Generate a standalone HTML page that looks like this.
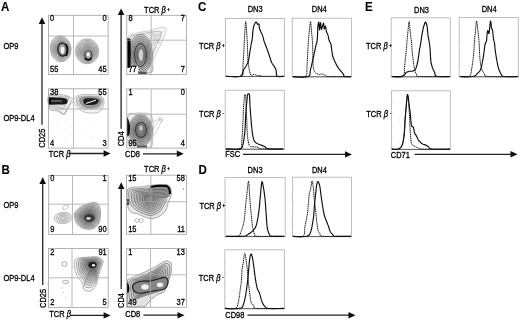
<!DOCTYPE html>
<html><head><meta charset="utf-8"><style>html,body{margin:0;padding:0;background:#fff;width:520px;height:321px;overflow:hidden}svg{display:block;will-change:transform}body{font-family:"Liberation Sans",sans-serif}</style></head>
<body>
<svg width="520" height="321" viewBox="0 0 520 321" font-family="'Liberation Sans', sans-serif">
<rect width="520" height="321" fill="#fff"/>
<defs><filter id="bl" x="0" y="0" width="1" height="1"><feGaussianBlur stdDeviation="0.35"/></filter></defs><g filter="url(#bl)">
<text transform="translate(1.1,10.7) scale(0.93,1)" font-size="12.4" text-anchor="start" font-weight="bold" fill="#000" stroke="#000" stroke-width="0.1" >A</text>
<text transform="translate(1.6,173.7) scale(0.93,1)" font-size="12.4" text-anchor="start" font-weight="bold" fill="#000" stroke="#000" stroke-width="0.1" >B</text>
<text transform="translate(197.9,10.6) scale(0.93,1)" font-size="12.4" text-anchor="start" font-weight="bold" fill="#000" stroke="#000" stroke-width="0.1" >C</text>
<text transform="translate(198.5,173.7) scale(0.93,1)" font-size="12.4" text-anchor="start" font-weight="bold" fill="#000" stroke="#000" stroke-width="0.1" >D</text>
<text transform="translate(364.9,10.9) scale(0.93,1)" font-size="12.4" text-anchor="start" font-weight="bold" fill="#000" stroke="#000" stroke-width="0.1" >E</text>
<path d="M70.80,47.37 L70.91,48.37 L70.95,49.39 L70.93,50.42 L70.86,51.43 L70.72,52.40 L70.51,53.35 L70.24,54.30 L69.91,55.21 L69.52,56.08 L69.09,56.89 L68.60,57.65 L68.06,58.36 L67.46,59.03 L66.83,59.62 L66.17,60.14 L65.48,60.59 L64.74,60.97 L63.98,61.29 L63.19,61.52 L62.41,61.67 L61.61,61.74 L60.80,61.73 L59.97,61.65 L59.16,61.48 L58.37,61.24 L57.59,60.92 L56.82,60.52 L56.07,60.05 L55.34,59.51 L54.67,58.92 L54.03,58.26 L53.42,57.53 L52.85,56.74 L52.33,55.91 L51.87,55.05 L51.47,54.15 L51.11,53.20 L50.81,52.22 L50.57,51.23 L50.40,50.23 L50.29,49.23 L50.25,48.21 L50.27,47.18 L50.34,46.17 L50.48,45.20 L50.69,44.25 L50.96,43.30 L51.29,42.39 L51.68,41.52 L52.11,40.71 L52.60,39.95 L53.14,39.24 L53.74,38.57 L54.37,37.98 L55.03,37.46 L55.72,37.01 L56.46,36.63 L57.22,36.31 L58.01,36.08 L58.79,35.93 L59.59,35.86 L60.40,35.87 L61.23,35.95 L62.04,36.12 L62.83,36.36 L63.61,36.68 L64.38,37.08 L65.13,37.55 L65.86,38.09 L66.53,38.68 L67.17,39.34 L67.78,40.07 L68.35,40.86 L68.87,41.69 L69.33,42.55 L69.73,43.45 L70.09,44.40 L70.39,45.38 L70.63,46.37 Z" fill="#f0f0f0" stroke="#555" stroke-width="0.5"/>
<path d="M69.92,47.58 L70.02,48.48 L70.06,49.40 L70.04,50.33 L69.97,51.23 L69.84,52.11 L69.66,52.97 L69.42,53.82 L69.12,54.64 L68.77,55.42 L68.38,56.15 L67.94,56.83 L67.45,57.48 L66.92,58.07 L66.35,58.61 L65.76,59.08 L65.13,59.48 L64.47,59.83 L63.78,60.11 L63.07,60.32 L62.37,60.46 L61.65,60.52 L60.92,60.51 L60.18,60.43 L59.44,60.28 L58.73,60.07 L58.03,59.78 L57.34,59.42 L56.66,58.99 L56.01,58.51 L55.40,57.97 L54.83,57.38 L54.28,56.72 L53.76,56.02 L53.30,55.27 L52.88,54.50 L52.52,53.69 L52.20,52.83 L51.93,51.95 L51.72,51.05 L51.56,50.16 L51.46,49.26 L51.42,48.34 L51.44,47.41 L51.51,46.51 L51.64,45.63 L51.82,44.77 L52.06,43.92 L52.36,43.10 L52.71,42.32 L53.10,41.59 L53.54,40.91 L54.03,40.26 L54.56,39.67 L55.13,39.13 L55.72,38.66 L56.35,38.26 L57.01,37.91 L57.70,37.63 L58.41,37.42 L59.11,37.28 L59.83,37.22 L60.56,37.23 L61.30,37.31 L62.04,37.46 L62.75,37.67 L63.45,37.96 L64.14,38.32 L64.82,38.75 L65.47,39.23 L66.08,39.77 L66.65,40.36 L67.20,41.02 L67.72,41.72 L68.18,42.47 L68.60,43.24 L68.96,44.05 L69.28,44.91 L69.55,45.79 L69.76,46.69 Z" fill="#e3e3e3" stroke="#555" stroke-width="0.5"/>
<path d="M69.04,47.79 L69.13,48.59 L69.16,49.41 L69.15,50.23 L69.08,51.04 L68.97,51.82 L68.81,52.58 L68.59,53.34 L68.33,54.07 L68.02,54.76 L67.67,55.41 L67.28,56.02 L66.85,56.59 L66.37,57.12 L65.87,57.60 L65.34,58.02 L64.78,58.37 L64.19,58.68 L63.58,58.93 L62.95,59.12 L62.33,59.24 L61.69,59.29 L61.04,59.29 L60.38,59.22 L59.73,59.08 L59.09,58.89 L58.47,58.64 L57.86,58.32 L57.25,57.94 L56.68,57.51 L56.13,57.03 L55.62,56.51 L55.14,55.92 L54.68,55.29 L54.26,54.63 L53.90,53.94 L53.57,53.22 L53.29,52.46 L53.05,51.68 L52.86,50.88 L52.72,50.09 L52.63,49.29 L52.60,48.47 L52.61,47.65 L52.68,46.84 L52.79,46.06 L52.95,45.30 L53.17,44.54 L53.43,43.81 L53.74,43.12 L54.09,42.47 L54.48,41.86 L54.91,41.29 L55.39,40.76 L55.89,40.28 L56.42,39.86 L56.98,39.51 L57.57,39.20 L58.18,38.95 L58.81,38.76 L59.43,38.64 L60.07,38.59 L60.72,38.59 L61.38,38.66 L62.03,38.80 L62.67,38.99 L63.29,39.24 L63.90,39.56 L64.51,39.94 L65.08,40.37 L65.63,40.85 L66.14,41.37 L66.62,41.96 L67.08,42.59 L67.50,43.25 L67.86,43.94 L68.19,44.66 L68.47,45.42 L68.71,46.20 L68.90,47.00 Z" fill="#d5d5d5" stroke="#555" stroke-width="0.5"/>
<path d="M68.16,48.01 L68.23,48.71 L68.27,49.42 L68.25,50.14 L68.20,50.85 L68.10,51.53 L67.96,52.20 L67.77,52.86 L67.54,53.50 L67.27,54.11 L66.96,54.67 L66.62,55.20 L66.24,55.70 L65.83,56.17 L65.38,56.59 L64.92,56.95 L64.44,57.26 L63.92,57.53 L63.38,57.75 L62.84,57.91 L62.29,58.02 L61.73,58.07 L61.16,58.06 L60.58,58.00 L60.01,57.89 L59.46,57.72 L58.91,57.50 L58.37,57.22 L57.85,56.88 L57.34,56.51 L56.87,56.09 L56.42,55.63 L55.99,55.12 L55.59,54.57 L55.23,53.99 L54.91,53.39 L54.63,52.76 L54.38,52.09 L54.17,51.41 L54.00,50.71 L53.88,50.01 L53.81,49.31 L53.77,48.60 L53.79,47.88 L53.84,47.17 L53.94,46.49 L54.08,45.82 L54.27,45.16 L54.50,44.52 L54.77,43.91 L55.08,43.35 L55.42,42.82 L55.80,42.32 L56.21,41.85 L56.66,41.43 L57.12,41.07 L57.60,40.76 L58.12,40.49 L58.66,40.27 L59.20,40.11 L59.75,40.00 L60.31,39.95 L60.88,39.96 L61.46,40.02 L62.03,40.13 L62.58,40.30 L63.13,40.52 L63.67,40.80 L64.19,41.14 L64.70,41.51 L65.17,41.93 L65.62,42.39 L66.05,42.90 L66.45,43.45 L66.81,44.03 L67.13,44.63 L67.41,45.26 L67.66,45.93 L67.87,46.61 L68.04,47.31 Z" fill="#c8c8c8" stroke="#555" stroke-width="0.5"/>
<path d="M67.28,48.22 L67.34,48.82 L67.37,49.43 L67.36,50.05 L67.31,50.66 L67.23,51.24 L67.11,51.81 L66.94,52.38 L66.74,52.93 L66.51,53.45 L66.25,53.93 L65.96,54.39 L65.64,54.82 L65.28,55.22 L64.90,55.57 L64.50,55.89 L64.09,56.16 L63.65,56.38 L63.19,56.57 L62.72,56.71 L62.25,56.80 L61.77,56.85 L61.28,56.84 L60.78,56.79 L60.30,56.69 L59.82,56.55 L59.36,56.35 L58.89,56.11 L58.44,55.83 L58.01,55.51 L57.60,55.15 L57.22,54.75 L56.85,54.32 L56.51,53.84 L56.20,53.35 L55.92,52.83 L55.68,52.29 L55.47,51.72 L55.29,51.13 L55.14,50.54 L55.04,49.94 L54.98,49.34 L54.95,48.73 L54.96,48.11 L55.01,47.50 L55.09,46.92 L55.21,46.35 L55.38,45.78 L55.58,45.23 L55.81,44.71 L56.07,44.23 L56.36,43.77 L56.68,43.34 L57.04,42.94 L57.42,42.59 L57.82,42.27 L58.23,42.00 L58.67,41.78 L59.13,41.59 L59.60,41.45 L60.07,41.36 L60.55,41.31 L61.04,41.32 L61.54,41.37 L62.02,41.47 L62.50,41.61 L62.96,41.81 L63.43,42.05 L63.88,42.33 L64.31,42.65 L64.72,43.01 L65.10,43.41 L65.47,43.84 L65.81,44.32 L66.12,44.81 L66.40,45.33 L66.64,45.87 L66.85,46.44 L67.03,47.03 L67.18,47.62 Z" fill="#bbbbbb" stroke="#555" stroke-width="0.5"/>
<path d="M66.40,48.43 L66.45,48.93 L66.48,49.45 L66.47,49.96 L66.43,50.46 L66.36,50.95 L66.26,51.43 L66.12,51.90 L65.95,52.35 L65.76,52.79 L65.55,53.19 L65.30,53.57 L65.03,53.93 L64.73,54.26 L64.42,54.56 L64.09,54.82 L63.74,55.05 L63.37,55.24 L62.99,55.39 L62.60,55.51 L62.20,55.59 L61.81,55.62 L61.40,55.62 L60.99,55.57 L60.58,55.49 L60.18,55.37 L59.80,55.21 L59.41,55.01 L59.03,54.77 L58.67,54.51 L58.33,54.21 L58.01,53.88 L57.71,53.51 L57.42,53.12 L57.16,52.70 L56.93,52.28 L56.73,51.83 L56.56,51.35 L56.41,50.86 L56.29,50.36 L56.20,49.87 L56.15,49.37 L56.12,48.85 L56.13,48.34 L56.17,47.84 L56.24,47.35 L56.34,46.87 L56.48,46.40 L56.65,45.95 L56.84,45.51 L57.05,45.11 L57.30,44.73 L57.57,44.37 L57.87,44.04 L58.18,43.74 L58.51,43.48 L58.86,43.25 L59.23,43.06 L59.61,42.91 L60.00,42.79 L60.40,42.71 L60.79,42.68 L61.20,42.68 L61.61,42.73 L62.02,42.81 L62.42,42.93 L62.80,43.09 L63.19,43.29 L63.57,43.53 L63.93,43.79 L64.27,44.09 L64.59,44.42 L64.89,44.79 L65.18,45.18 L65.44,45.60 L65.67,46.02 L65.87,46.47 L66.04,46.95 L66.19,47.44 L66.31,47.94 Z" fill="#adadad" stroke="#555" stroke-width="0.5"/>
<path d="M65.52,48.65 L65.56,49.05 L65.58,49.46 L65.57,49.87 L65.54,50.27 L65.49,50.66 L65.40,51.04 L65.30,51.42 L65.16,51.78 L65.01,52.13 L64.84,52.46 L64.64,52.76 L64.42,53.05 L64.19,53.31 L63.93,53.55 L63.67,53.76 L63.39,53.94 L63.10,54.09 L62.79,54.21 L62.48,54.31 L62.16,54.37 L61.85,54.40 L61.52,54.39 L61.19,54.36 L60.86,54.29 L60.55,54.20 L60.24,54.07 L59.93,53.91 L59.63,53.72 L59.34,53.50 L59.07,53.27 L58.81,53.00 L58.57,52.71 L58.34,52.40 L58.13,52.06 L57.95,51.72 L57.79,51.36 L57.64,50.98 L57.52,50.59 L57.43,50.19 L57.36,49.79 L57.32,49.39 L57.30,48.98 L57.31,48.57 L57.34,48.17 L57.39,47.78 L57.48,47.40 L57.58,47.02 L57.72,46.66 L57.87,46.31 L58.04,45.98 L58.24,45.68 L58.46,45.39 L58.69,45.13 L58.95,44.89 L59.21,44.68 L59.49,44.50 L59.78,44.35 L60.09,44.23 L60.40,44.13 L60.72,44.07 L61.03,44.04 L61.36,44.05 L61.69,44.08 L62.02,44.15 L62.33,44.24 L62.64,44.37 L62.95,44.53 L63.25,44.72 L63.54,44.94 L63.81,45.17 L64.07,45.44 L64.31,45.73 L64.54,46.04 L64.75,46.38 L64.93,46.72 L65.09,47.08 L65.24,47.46 L65.36,47.85 L65.45,48.25 Z" fill="#a0a0a0" stroke="#555" stroke-width="0.5"/>
<ellipse cx="62.5" cy="49.5" rx="4.6" ry="6.6" fill="none" stroke="#2a2a2a" stroke-width="1.5" transform="rotate(-5 62.5 49.5)" opacity="1"/>
<path d="M65.5,44 C68,46 68.5,52 66,56" fill="none" stroke="#0a0a0a" stroke-width="1.6"/>
<ellipse cx="62.6" cy="50.2" rx="1.8" ry="3.6" fill="#f4f4f4" stroke="none" stroke-width="1" transform="rotate(0 62.6 50.2)" opacity="1"/>
<path d="M98.60,51.30 L98.56,52.26 L98.45,53.23 L98.28,54.20 L98.03,55.14 L97.72,56.05 L97.35,56.92 L96.90,57.77 L96.40,58.59 L95.84,59.36 L95.23,60.07 L94.58,60.72 L93.86,61.32 L93.10,61.87 L92.31,62.35 L91.50,62.76 L90.66,63.09 L89.79,63.35 L88.89,63.54 L87.99,63.66 L87.10,63.70 L86.21,63.66 L85.31,63.54 L84.41,63.35 L83.54,63.09 L82.70,62.76 L81.89,62.35 L81.10,61.87 L80.34,61.32 L79.62,60.72 L78.97,60.07 L78.36,59.36 L77.80,58.59 L77.30,57.77 L76.85,56.92 L76.48,56.05 L76.17,55.14 L75.92,54.20 L75.75,53.23 L75.64,52.26 L75.60,51.30 L75.64,50.34 L75.75,49.37 L75.92,48.40 L76.17,47.46 L76.48,46.55 L76.85,45.68 L77.30,44.83 L77.80,44.01 L78.36,43.24 L78.97,42.53 L79.62,41.88 L80.34,41.28 L81.10,40.73 L81.89,40.25 L82.70,39.84 L83.54,39.51 L84.41,39.25 L85.31,39.06 L86.21,38.94 L87.10,38.90 L87.99,38.94 L88.89,39.06 L89.79,39.25 L90.66,39.51 L91.50,39.84 L92.31,40.25 L93.10,40.73 L93.86,41.28 L94.58,41.88 L95.23,42.53 L95.84,43.24 L96.40,44.01 L96.90,44.83 L97.35,45.68 L97.72,46.55 L98.03,47.46 L98.28,48.40 L98.45,49.37 L98.56,50.34 Z" fill="#f0f0f0" stroke="#555" stroke-width="0.5"/>
<path d="M97.52,51.47 L97.49,52.33 L97.39,53.21 L97.23,54.08 L97.01,54.93 L96.73,55.74 L96.39,56.53 L95.99,57.29 L95.54,58.03 L95.03,58.72 L94.49,59.36 L93.90,59.95 L93.25,60.49 L92.57,60.98 L91.86,61.42 L91.13,61.78 L90.38,62.08 L89.59,62.31 L88.78,62.49 L87.97,62.59 L87.17,62.63 L86.37,62.59 L85.56,62.49 L84.75,62.31 L83.96,62.08 L83.21,61.78 L82.48,61.42 L81.77,60.98 L81.09,60.49 L80.44,59.95 L79.85,59.36 L79.31,58.72 L78.80,58.03 L78.35,57.29 L77.95,56.53 L77.61,55.74 L77.33,54.93 L77.11,54.08 L76.95,53.21 L76.85,52.33 L76.82,51.47 L76.85,50.61 L76.95,49.73 L77.11,48.86 L77.33,48.01 L77.61,47.20 L77.95,46.41 L78.35,45.65 L78.80,44.91 L79.31,44.22 L79.85,43.58 L80.44,42.99 L81.09,42.45 L81.77,41.96 L82.48,41.52 L83.21,41.16 L83.96,40.86 L84.75,40.63 L85.56,40.45 L86.37,40.35 L87.17,40.31 L87.97,40.35 L88.78,40.45 L89.59,40.63 L90.38,40.86 L91.13,41.16 L91.86,41.52 L92.57,41.96 L93.25,42.45 L93.90,42.99 L94.49,43.58 L95.03,44.22 L95.54,44.91 L95.99,45.65 L96.39,46.41 L96.73,47.20 L97.01,48.01 L97.23,48.86 L97.39,49.73 L97.49,50.61 Z" fill="#e6e6e6" stroke="#555" stroke-width="0.5"/>
<path d="M96.44,51.64 L96.41,52.41 L96.32,53.19 L96.18,53.96 L95.98,54.71 L95.74,55.44 L95.44,56.13 L95.08,56.82 L94.68,57.47 L94.23,58.09 L93.75,58.65 L93.22,59.18 L92.65,59.66 L92.04,60.10 L91.41,60.48 L90.76,60.80 L90.09,61.07 L89.39,61.28 L88.67,61.43 L87.95,61.53 L87.24,61.56 L86.53,61.53 L85.81,61.43 L85.09,61.28 L84.39,61.07 L83.72,60.80 L83.07,60.48 L82.44,60.10 L81.83,59.66 L81.26,59.18 L80.73,58.65 L80.25,58.09 L79.80,57.47 L79.40,56.82 L79.04,56.13 L78.74,55.44 L78.50,54.71 L78.30,53.96 L78.16,53.19 L78.07,52.41 L78.04,51.64 L78.07,50.87 L78.16,50.09 L78.30,49.32 L78.50,48.57 L78.74,47.84 L79.04,47.15 L79.40,46.46 L79.80,45.81 L80.25,45.19 L80.73,44.63 L81.26,44.10 L81.83,43.62 L82.44,43.18 L83.07,42.80 L83.72,42.48 L84.39,42.21 L85.09,42.00 L85.81,41.85 L86.53,41.75 L87.24,41.72 L87.95,41.75 L88.67,41.85 L89.39,42.00 L90.09,42.21 L90.76,42.48 L91.41,42.80 L92.04,43.18 L92.65,43.62 L93.22,44.10 L93.75,44.63 L94.23,45.19 L94.68,45.81 L95.08,46.46 L95.44,47.15 L95.74,47.84 L95.98,48.57 L96.18,49.32 L96.32,50.09 L96.41,50.87 Z" fill="#dbdbdb" stroke="#555" stroke-width="0.5"/>
<path d="M95.36,51.81 L95.33,52.48 L95.26,53.16 L95.13,53.84 L94.96,54.50 L94.75,55.13 L94.48,55.74 L94.17,56.34 L93.82,56.91 L93.42,57.45 L93.00,57.95 L92.54,58.40 L92.04,58.83 L91.51,59.21 L90.96,59.55 L90.39,59.83 L89.80,60.06 L89.19,60.24 L88.56,60.38 L87.93,60.46 L87.31,60.49 L86.69,60.46 L86.06,60.38 L85.43,60.24 L84.82,60.06 L84.23,59.83 L83.66,59.55 L83.11,59.21 L82.58,58.83 L82.08,58.40 L81.62,57.95 L81.20,57.45 L80.80,56.91 L80.45,56.34 L80.14,55.74 L79.87,55.13 L79.66,54.50 L79.49,53.84 L79.36,53.16 L79.29,52.48 L79.26,51.81 L79.29,51.14 L79.36,50.46 L79.49,49.78 L79.66,49.12 L79.87,48.49 L80.14,47.88 L80.45,47.28 L80.80,46.71 L81.20,46.17 L81.62,45.67 L82.08,45.22 L82.58,44.79 L83.11,44.41 L83.66,44.07 L84.23,43.79 L84.82,43.56 L85.43,43.38 L86.06,43.24 L86.69,43.16 L87.31,43.13 L87.93,43.16 L88.56,43.24 L89.19,43.38 L89.80,43.56 L90.39,43.79 L90.96,44.07 L91.51,44.41 L92.04,44.79 L92.54,45.22 L93.00,45.67 L93.42,46.17 L93.82,46.71 L94.17,47.28 L94.48,47.88 L94.75,48.49 L94.96,49.12 L95.13,49.78 L95.26,50.46 L95.33,51.14 Z" fill="#d1d1d1" stroke="#555" stroke-width="0.5"/>
<path d="M94.28,51.98 L94.26,52.56 L94.19,53.14 L94.09,53.72 L93.94,54.29 L93.75,54.83 L93.53,55.35 L93.26,55.86 L92.96,56.35 L92.62,56.82 L92.26,57.24 L91.87,57.63 L91.44,57.99 L90.98,58.32 L90.51,58.61 L90.02,58.85 L89.52,59.05 L88.99,59.21 L88.46,59.33 L87.91,59.40 L87.38,59.42 L86.85,59.40 L86.30,59.33 L85.77,59.21 L85.24,59.05 L84.74,58.85 L84.25,58.61 L83.78,58.32 L83.32,57.99 L82.89,57.63 L82.50,57.24 L82.14,56.82 L81.80,56.35 L81.50,55.86 L81.23,55.35 L81.01,54.83 L80.82,54.29 L80.67,53.72 L80.57,53.14 L80.50,52.56 L80.48,51.98 L80.50,51.40 L80.57,50.82 L80.67,50.24 L80.82,49.67 L81.01,49.13 L81.23,48.61 L81.50,48.10 L81.80,47.61 L82.14,47.14 L82.50,46.72 L82.89,46.33 L83.32,45.97 L83.78,45.64 L84.25,45.35 L84.74,45.11 L85.24,44.91 L85.77,44.75 L86.30,44.63 L86.85,44.56 L87.38,44.54 L87.91,44.56 L88.46,44.63 L88.99,44.75 L89.52,44.91 L90.02,45.11 L90.51,45.35 L90.98,45.64 L91.44,45.97 L91.87,46.33 L92.26,46.72 L92.62,47.14 L92.96,47.61 L93.26,48.10 L93.53,48.61 L93.75,49.13 L93.94,49.67 L94.09,50.24 L94.19,50.82 L94.26,51.40 Z" fill="#c7c7c7" stroke="#555" stroke-width="0.5"/>
<path d="M93.20,52.15 L93.18,52.63 L93.13,53.12 L93.04,53.60 L92.92,54.07 L92.76,54.52 L92.57,54.96 L92.35,55.39 L92.10,55.79 L91.82,56.18 L91.52,56.53 L91.19,56.86 L90.83,57.16 L90.45,57.44 L90.05,57.68 L89.65,57.88 L89.23,58.04 L88.79,58.17 L88.35,58.27 L87.90,58.33 L87.45,58.35 L87.00,58.33 L86.55,58.27 L86.11,58.17 L85.67,58.04 L85.25,57.88 L84.85,57.68 L84.45,57.44 L84.07,57.16 L83.71,56.86 L83.38,56.53 L83.08,56.18 L82.80,55.79 L82.55,55.39 L82.33,54.96 L82.14,54.52 L81.98,54.07 L81.86,53.60 L81.77,53.12 L81.72,52.63 L81.70,52.15 L81.72,51.67 L81.77,51.18 L81.86,50.70 L81.98,50.23 L82.14,49.78 L82.33,49.34 L82.55,48.91 L82.80,48.51 L83.08,48.12 L83.38,47.77 L83.71,47.44 L84.07,47.14 L84.45,46.86 L84.85,46.62 L85.25,46.42 L85.67,46.26 L86.11,46.13 L86.55,46.03 L87.00,45.97 L87.45,45.95 L87.90,45.97 L88.35,46.03 L88.79,46.13 L89.23,46.26 L89.65,46.42 L90.05,46.62 L90.45,46.86 L90.83,47.14 L91.19,47.44 L91.52,47.77 L91.82,48.12 L92.10,48.51 L92.35,48.91 L92.57,49.34 L92.76,49.78 L92.92,50.23 L93.04,50.70 L93.13,51.18 L93.18,51.67 Z" fill="#bdbdbd" stroke="#555" stroke-width="0.5"/>
<path d="M92.12,52.32 L92.11,52.70 L92.06,53.09 L91.99,53.48 L91.89,53.86 L91.77,54.22 L91.62,54.57 L91.44,54.91 L91.24,55.24 L91.01,55.54 L90.77,55.83 L90.51,56.09 L90.22,56.33 L89.92,56.55 L89.60,56.74 L89.28,56.90 L88.95,57.03 L88.60,57.14 L88.24,57.22 L87.88,57.26 L87.52,57.28 L87.16,57.26 L86.80,57.22 L86.44,57.14 L86.09,57.03 L85.76,56.90 L85.44,56.74 L85.12,56.55 L84.82,56.33 L84.53,56.09 L84.27,55.83 L84.03,55.54 L83.80,55.24 L83.60,54.91 L83.42,54.57 L83.27,54.22 L83.15,53.86 L83.05,53.48 L82.98,53.09 L82.93,52.70 L82.92,52.32 L82.93,51.94 L82.98,51.55 L83.05,51.16 L83.15,50.78 L83.27,50.42 L83.42,50.07 L83.60,49.73 L83.80,49.40 L84.03,49.10 L84.27,48.81 L84.53,48.55 L84.82,48.31 L85.12,48.09 L85.44,47.90 L85.76,47.74 L86.09,47.61 L86.44,47.50 L86.80,47.42 L87.16,47.38 L87.52,47.36 L87.88,47.38 L88.24,47.42 L88.60,47.50 L88.95,47.61 L89.28,47.74 L89.60,47.90 L89.92,48.09 L90.22,48.31 L90.51,48.55 L90.77,48.81 L91.01,49.10 L91.24,49.40 L91.44,49.73 L91.62,50.07 L91.77,50.42 L91.89,50.78 L91.99,51.16 L92.06,51.55 L92.11,51.94 Z" fill="#b2b2b2" stroke="#555" stroke-width="0.5"/>
<path d="M91.04,52.49 L91.03,52.78 L91.00,53.07 L90.94,53.36 L90.87,53.64 L90.78,53.91 L90.66,54.18 L90.53,54.43 L90.38,54.68 L90.21,54.91 L90.03,55.12 L89.83,55.32 L89.62,55.50 L89.39,55.66 L89.15,55.81 L88.91,55.93 L88.66,56.03 L88.40,56.10 L88.13,56.16 L87.86,56.20 L87.59,56.21 L87.32,56.20 L87.05,56.16 L86.78,56.10 L86.52,56.03 L86.27,55.93 L86.03,55.81 L85.79,55.66 L85.56,55.50 L85.35,55.32 L85.15,55.12 L84.97,54.91 L84.80,54.68 L84.65,54.43 L84.52,54.18 L84.40,53.91 L84.31,53.64 L84.24,53.36 L84.18,53.07 L84.15,52.78 L84.14,52.49 L84.15,52.20 L84.18,51.91 L84.24,51.62 L84.31,51.34 L84.40,51.07 L84.52,50.80 L84.65,50.55 L84.80,50.30 L84.97,50.07 L85.15,49.86 L85.35,49.66 L85.56,49.48 L85.79,49.32 L86.03,49.17 L86.27,49.05 L86.52,48.95 L86.78,48.88 L87.05,48.82 L87.32,48.78 L87.59,48.77 L87.86,48.78 L88.13,48.82 L88.40,48.88 L88.66,48.95 L88.91,49.05 L89.15,49.17 L89.39,49.32 L89.62,49.48 L89.83,49.66 L90.03,49.86 L90.21,50.07 L90.38,50.30 L90.53,50.55 L90.66,50.80 L90.78,51.07 L90.87,51.34 L90.94,51.62 L91.00,51.91 L91.03,52.20 Z" fill="#a8a8a8" stroke="#555" stroke-width="0.5"/>
<ellipse cx="88.3" cy="55.3" rx="3.6" ry="4.6" fill="none" stroke="#3a3a3a" stroke-width="1.1" transform="rotate(0 88.3 55.3)" opacity="1"/>
<path d="M85,58 C86.5,60.5 90,60.5 91.5,58" fill="none" stroke="#0a0a0a" stroke-width="1.8"/>
<ellipse cx="88.3" cy="54.6" rx="1.5" ry="2.2" fill="#f8f8f8" stroke="none" stroke-width="1" transform="rotate(0 88.3 54.6)" opacity="1"/>
<path d="M49.00,94.50 L50.48,93.55 L52.68,93.38 L55.24,93.70 L57.80,94.17 L60.00,94.50 L61.84,94.69 L63.56,94.94 L65.16,95.26 L66.64,95.61 L68.00,96.00 L69.18,96.53 L70.17,97.22 L71.07,97.88 L71.98,98.37 L73.00,98.50 L74.06,98.14 L75.09,97.39 L76.19,96.47 L77.46,95.60 L79.00,95.00 L80.90,94.68 L83.09,94.51 L85.43,94.45 L87.78,94.46 L90.00,94.50 L92.16,94.55 L94.36,94.62 L96.48,94.78 L98.40,95.05 L100.00,95.50 L101.26,96.14 L102.27,96.93 L103.05,97.85 L103.62,98.88 L104.00,100.00 L104.18,101.26 L104.15,102.69 L103.93,104.19 L103.54,105.66 L103.00,107.00 L102.37,108.28 L101.62,109.57 L100.70,110.77 L99.51,111.78 L98.00,112.50 L95.98,112.92 L93.51,113.11 L90.85,113.09 L88.26,112.88 L86.00,112.50 L84.10,111.91 L82.37,111.10 L80.79,110.12 L79.34,109.07 L78.00,108.00 L76.81,106.70 L75.78,105.13 L74.86,103.61 L73.95,102.46 L73.00,102.00 L71.98,102.42 L70.95,103.51 L69.93,104.99 L68.94,106.58 L68.00,108.00 L67.18,109.43 L66.47,111.04 L65.77,112.60 L64.98,113.83 L64.00,114.50 L62.79,114.42 L61.42,113.75 L59.94,112.77 L58.45,111.76 L57.00,111.00 L55.50,110.70 L53.91,110.69 L52.37,110.63 L51.02,110.18 L50.00,109.00 L49.22,106.67 L48.59,103.40 L48.25,99.86 L48.34,96.67 Z" fill="#f2f2f2" stroke="#888" stroke-width="0.5" opacity="1"/>
<path d="M49.00,96.00 L50.53,95.34 L52.70,95.21 L55.22,95.41 L57.75,95.74 L60.00,96.00 L62.12,96.12 L64.32,96.25 L66.36,96.47 L68.00,96.86 L69.00,97.50 L69.17,98.50 L68.66,99.81 L67.78,101.27 L66.79,102.72 L66.00,104.00 L65.45,105.21 L64.94,106.44 L64.42,107.58 L63.79,108.47 L63.00,109.00 L62.02,109.03 L60.91,108.66 L59.69,108.06 L58.38,107.45 L57.00,107.00 L55.40,106.88 L53.56,106.96 L51.72,107.00 L50.12,106.76 L49.00,106.00 L48.31,104.42 L47.90,102.17 L47.82,99.71 L48.17,97.50 Z" fill="#dcdcdc" stroke="#777" stroke-width="0.45" opacity="1"/>
<path d="M78.00,97.00 L79.73,96.45 L82.10,96.14 L84.82,96.02 L87.55,95.99 L90.00,96.00 L92.24,96.02 L94.48,96.11 L96.60,96.29 L98.48,96.58 L100.00,97.00 L101.14,97.58 L101.99,98.29 L102.57,99.11 L102.90,100.02 L103.00,101.00 L102.86,102.14 L102.47,103.45 L101.85,104.79 L101.02,106.02 L100.00,107.00 L98.75,107.70 L97.26,108.23 L95.58,108.61 L93.81,108.86 L92.00,109.00 L90.05,109.06 L87.90,109.01 L85.74,108.83 L83.71,108.50 L82.00,108.00 L80.58,107.27 L79.35,106.34 L78.33,105.26 L77.54,104.13 L77.00,103.00 L76.64,101.78 L76.44,100.43 L76.52,99.09 L77.00,97.90 Z" fill="#cfcfcf" stroke="#777" stroke-width="0.45" opacity="1"/>
<path d="M81.00,98.00 L82.29,97.57 L84.02,97.26 L86.02,97.08 L88.07,96.99 L90.00,97.00 L91.91,97.11 L93.94,97.32 L95.90,97.64 L97.65,98.03 L99.00,98.50 L99.93,99.06 L100.54,99.73 L100.90,100.47 L101.03,101.24 L101.00,102.00 L100.78,102.81 L100.35,103.68 L99.73,104.56 L98.94,105.35 L98.00,106.00 L96.86,106.50 L95.49,106.90 L93.99,107.20 L92.46,107.40 L91.00,107.50 L89.55,107.52 L88.06,107.45 L86.58,107.27 L85.21,106.96 L84.00,106.50 L82.93,105.82 L81.94,104.93 L81.10,103.93 L80.43,102.92 L80.00,102.00 L79.75,101.12 L79.66,100.22 L79.78,99.36 L80.21,98.60 Z" fill="#9a9a9a" stroke="#555" stroke-width="0.45" opacity="1"/>
<path d="M49.00,98.00 L50.24,97.52 L52.00,97.33 L54.04,97.33 L56.12,97.42 L58.00,97.50 L59.77,97.58 L61.58,97.72 L63.32,97.92 L64.83,98.18 L66.00,98.50 L66.76,98.90 L67.21,99.37 L67.43,99.89 L67.50,100.44 L67.50,101.00 L67.50,101.61 L67.43,102.28 L67.21,102.96 L66.76,103.55 L66.00,104.00 L64.83,104.28 L63.32,104.43 L61.58,104.49 L59.77,104.50 L58.00,104.50 L56.12,104.55 L54.04,104.64 L52.00,104.64 L50.24,104.47 L49.00,104.00 L48.28,103.06 L47.92,101.73 L47.92,100.27 L48.28,98.94 Z" fill="#1a1a1a" stroke="none" stroke-width="0.5" opacity="1"/>
<path d="M51,101 L62,101" stroke="#9a9a9a" stroke-width="1"/>
<rect x="48.8" y="97.5" width="2" height="7" fill="#000"/>
<path d="M84.00,99.00 L85.12,98.59 L86.72,98.36 L88.56,98.26 L90.40,98.26 L92.00,98.30 L93.42,98.40 L94.81,98.58 L96.09,98.84 L97.18,99.15 L98.00,99.50 L98.52,99.92 L98.79,100.41 L98.85,100.94 L98.74,101.48 L98.50,102.00 L98.11,102.53 L97.56,103.10 L96.84,103.64 L95.99,104.13 L95.00,104.50 L93.78,104.76 L92.31,104.94 L90.75,105.04 L89.26,105.06 L88.00,105.00 L86.94,104.88 L85.99,104.69 L85.17,104.41 L84.50,104.02 L84.00,103.50 L83.62,102.73 L83.33,101.73 L83.23,100.67 L83.42,99.70 Z" fill="#1c1c1c" stroke="none" stroke-width="0.5" opacity="1"/>
<path d="M86.5,103.3 L95.5,100.2" stroke="#f0f0f0" stroke-width="1.2" stroke-linecap="round"/>
<path d="M55,108 L64,114.5 L72,99.5" fill="none" stroke="#888" stroke-width="0.5"/>
<circle cx="62" cy="118" r="0.4" fill="#bbb"/>
<circle cx="66" cy="121" r="0.4" fill="#bbb"/>
<circle cx="58" cy="124" r="0.4" fill="#bbb"/>
<circle cx="70" cy="126" r="0.4" fill="#bbb"/>
<circle cx="64" cy="129" r="0.4" fill="#bbb"/>
<circle cx="60" cy="133" r="0.4" fill="#bbb"/>
<circle cx="68" cy="135" r="0.4" fill="#bbb"/>
<circle cx="85" cy="118" r="0.4" fill="#bbb"/>
<circle cx="95" cy="122" r="0.4" fill="#bbb"/>
<circle cx="88" cy="128" r="0.4" fill="#bbb"/>
<circle cx="66" cy="140" r="0.4" fill="#bbb"/>
<circle cx="80" cy="135" r="0.4" fill="#bbb"/>
<circle cx="92" cy="138" r="0.4" fill="#bbb"/>
<circle cx="56" cy="117" r="0.4" fill="#bbb"/>
<circle cx="74" cy="119" r="0.4" fill="#bbb"/>
<path d="M128.00,38.00 L128.62,36.02 L129.45,35.01 L130.47,34.59 L131.66,34.38 L133.00,34.00 L134.53,33.47 L136.26,33.06 L138.14,32.70 L140.07,32.37 L142.00,32.00 L143.97,31.61 L146.02,31.22 L148.10,30.84 L150.11,30.43 L152.00,30.00 L153.76,29.48 L155.44,28.87 L157.04,28.27 L158.56,27.78 L160.00,27.50 L161.44,27.39 L162.88,27.38 L164.20,27.54 L165.28,27.89 L166.00,28.50 L166.30,29.41 L166.25,30.58 L165.95,31.96 L165.50,33.45 L165.00,35.00 L164.39,36.66 L163.62,38.47 L162.74,40.35 L161.85,42.22 L161.00,44.00 L160.20,45.63 L159.40,47.18 L158.60,48.70 L157.80,50.29 L157.00,52.00 L156.15,53.87 L155.26,55.86 L154.38,57.90 L153.61,59.97 L153.00,62.00 L152.78,64.14 L152.91,66.41 L153.05,68.61 L152.86,70.54 L152.00,72.00 L150.27,72.87 L147.90,73.28 L145.18,73.42 L142.45,73.43 L140.00,73.50 L137.74,73.81 L135.47,74.26 L133.33,74.54 L131.46,74.39 L130.00,73.50 L129.06,71.80 L128.53,69.48 L128.27,66.66 L128.14,63.46 L128.00,60.00 L127.79,55.86 L127.62,50.95 L127.54,45.91 L127.65,41.38 Z" fill="#f6f6f6" stroke="#a0a0a0" stroke-width="0.5" opacity="1"/>
<path d="M130.00,38.00 L130.82,36.17 L131.85,35.38 L133.07,35.22 L134.46,35.23 L136.00,35.00 L137.76,34.53 L139.76,34.10 L141.88,33.72 L144.00,33.35 L146.00,33.00 L147.91,32.64 L149.82,32.27 L151.66,31.93 L153.41,31.66 L155.00,31.50 L156.50,31.38 L157.95,31.29 L159.25,31.31 L160.30,31.52 L161.00,32.00 L161.30,32.82 L161.25,33.91 L160.95,35.19 L160.50,36.58 L160.00,38.00 L159.38,39.46 L158.57,41.01 L157.67,42.63 L156.78,44.30 L156.00,46.00 L155.30,47.72 L154.63,49.48 L154.01,51.28 L153.46,53.12 L153.00,55.00 L152.67,56.98 L152.46,59.07 L152.30,61.17 L152.17,63.18 L152.00,65.00 L152.10,66.70 L152.51,68.35 L152.77,69.85 L152.42,71.10 L151.00,72.00 L147.93,72.64 L143.50,73.08 L138.62,73.20 L134.15,72.88 L131.00,72.00 L129.40,70.53 L128.76,68.54 L128.72,66.10 L128.92,63.23 L129.00,60.00 L128.93,55.94 L128.94,51.01 L129.10,45.91 L129.43,41.34 Z" fill="#e4e4e4" stroke="#888" stroke-width="0.5" opacity="1"/>
<path d="M150,31 C154,36 157,40 160,44 M153,33 C156,38 160,36 163,31 M151,45 C155,43 158,40 161,37" fill="none" stroke="#aaa" stroke-width="0.5"/>
<path d="M152.30,54.00 L152.26,55.51 L152.15,57.04 L151.97,58.56 L151.72,60.04 L151.40,61.46 L151.02,62.83 L150.56,64.18 L150.04,65.46 L149.46,66.68 L148.84,67.79 L148.17,68.81 L147.44,69.76 L146.66,70.62 L145.85,71.38 L145.02,72.02 L144.16,72.54 L143.26,72.95 L142.34,73.25 L141.41,73.44 L140.50,73.50 L139.59,73.44 L138.66,73.25 L137.74,72.95 L136.84,72.54 L135.98,72.02 L135.15,71.38 L134.34,70.62 L133.56,69.76 L132.83,68.81 L132.16,67.79 L131.54,66.68 L130.96,65.46 L130.44,64.18 L129.98,62.83 L129.60,61.46 L129.28,60.04 L129.03,58.56 L128.85,57.04 L128.74,55.51 L128.70,54.00 L128.74,52.49 L128.85,50.96 L129.03,49.44 L129.28,47.96 L129.60,46.54 L129.98,45.17 L130.44,43.82 L130.96,42.54 L131.54,41.32 L132.16,40.21 L132.83,39.19 L133.56,38.24 L134.34,37.38 L135.15,36.62 L135.98,35.98 L136.84,35.46 L137.74,35.05 L138.66,34.75 L139.59,34.56 L140.50,34.50 L141.41,34.56 L142.34,34.75 L143.26,35.05 L144.16,35.46 L145.02,35.98 L145.85,36.62 L146.66,37.38 L147.44,38.24 L148.17,39.19 L148.84,40.21 L149.46,41.32 L150.04,42.54 L150.56,43.82 L151.02,45.17 L151.40,46.54 L151.72,47.96 L151.97,49.44 L152.15,50.96 L152.26,52.49 Z" fill="#d0d0d0" stroke="#444" stroke-width="0.55"/>
<path d="M151.15,54.10 L151.12,55.46 L151.01,56.84 L150.85,58.20 L150.62,59.54 L150.34,60.82 L150.00,62.05 L149.58,63.26 L149.11,64.42 L148.60,65.51 L148.04,66.51 L147.43,67.43 L146.77,68.29 L146.07,69.06 L145.34,69.74 L144.59,70.31 L143.82,70.78 L143.01,71.15 L142.19,71.43 L141.35,71.59 L140.53,71.65 L139.71,71.59 L138.87,71.43 L138.05,71.15 L137.24,70.78 L136.47,70.31 L135.72,69.74 L134.99,69.06 L134.29,68.29 L133.63,67.43 L133.02,66.51 L132.46,65.51 L131.95,64.42 L131.48,63.26 L131.06,62.05 L130.72,60.82 L130.44,59.54 L130.21,58.20 L130.05,56.84 L129.94,55.46 L129.91,54.10 L129.94,52.74 L130.05,51.36 L130.21,50.00 L130.44,48.66 L130.72,47.38 L131.06,46.15 L131.48,44.94 L131.95,43.78 L132.46,42.69 L133.02,41.69 L133.63,40.77 L134.29,39.91 L134.99,39.14 L135.72,38.46 L136.47,37.89 L137.24,37.42 L138.05,37.05 L138.87,36.77 L139.71,36.61 L140.53,36.55 L141.35,36.61 L142.19,36.77 L143.01,37.05 L143.82,37.42 L144.59,37.89 L145.34,38.46 L146.07,39.14 L146.77,39.91 L147.43,40.77 L148.04,41.69 L148.60,42.69 L149.11,43.78 L149.58,44.94 L150.00,46.15 L150.34,47.38 L150.62,48.66 L150.85,50.00 L151.01,51.36 L151.12,52.74 Z" fill="#c5c5c5" stroke="#444" stroke-width="0.55"/>
<path d="M150.00,54.20 L149.97,55.41 L149.88,56.63 L149.73,57.85 L149.53,59.03 L149.28,60.17 L148.97,61.27 L148.61,62.34 L148.19,63.37 L147.73,64.34 L147.24,65.23 L146.70,66.05 L146.11,66.81 L145.49,67.50 L144.84,68.10 L144.17,68.61 L143.49,69.03 L142.77,69.36 L142.03,69.60 L141.29,69.75 L140.56,69.80 L139.83,69.75 L139.09,69.60 L138.35,69.36 L137.63,69.03 L136.95,68.61 L136.28,68.10 L135.63,67.50 L135.01,66.81 L134.42,66.05 L133.88,65.23 L133.39,64.34 L132.93,63.37 L132.51,62.34 L132.15,61.27 L131.84,60.17 L131.59,59.03 L131.39,57.85 L131.24,56.63 L131.15,55.41 L131.12,54.20 L131.15,52.99 L131.24,51.77 L131.39,50.55 L131.59,49.37 L131.84,48.23 L132.15,47.13 L132.51,46.06 L132.93,45.03 L133.39,44.06 L133.88,43.17 L134.42,42.35 L135.01,41.59 L135.63,40.90 L136.28,40.30 L136.95,39.79 L137.63,39.37 L138.35,39.04 L139.09,38.80 L139.83,38.65 L140.56,38.60 L141.29,38.65 L142.03,38.80 L142.77,39.04 L143.49,39.37 L144.17,39.79 L144.84,40.30 L145.49,40.90 L146.11,41.59 L146.70,42.35 L147.24,43.17 L147.73,44.06 L148.19,45.03 L148.61,46.06 L148.97,47.13 L149.28,48.23 L149.53,49.37 L149.73,50.55 L149.88,51.77 L149.97,52.99 Z" fill="#b9b9b9" stroke="#444" stroke-width="0.55"/>
<path d="M148.85,54.30 L148.82,55.36 L148.74,56.43 L148.62,57.49 L148.44,58.53 L148.22,59.52 L147.95,60.48 L147.63,61.42 L147.27,62.32 L146.86,63.17 L146.43,63.95 L145.96,64.67 L145.45,65.33 L144.90,65.94 L144.33,66.47 L143.75,66.91 L143.15,67.27 L142.52,67.56 L141.88,67.78 L141.23,67.91 L140.59,67.95 L139.95,67.91 L139.30,67.78 L138.66,67.56 L138.03,67.27 L137.43,66.91 L136.85,66.47 L136.28,65.94 L135.73,65.33 L135.22,64.67 L134.75,63.95 L134.32,63.17 L133.91,62.32 L133.55,61.42 L133.23,60.48 L132.96,59.52 L132.74,58.53 L132.56,57.49 L132.44,56.43 L132.36,55.36 L132.33,54.30 L132.36,53.24 L132.44,52.17 L132.56,51.11 L132.74,50.07 L132.96,49.08 L133.23,48.12 L133.55,47.18 L133.91,46.28 L134.32,45.43 L134.75,44.65 L135.22,43.93 L135.73,43.27 L136.28,42.66 L136.85,42.13 L137.43,41.69 L138.03,41.33 L138.66,41.04 L139.30,40.82 L139.95,40.69 L140.59,40.65 L141.23,40.69 L141.88,40.82 L142.52,41.04 L143.15,41.33 L143.75,41.69 L144.33,42.13 L144.90,42.66 L145.45,43.27 L145.96,43.93 L146.43,44.65 L146.86,45.43 L147.27,46.28 L147.63,47.18 L147.95,48.12 L148.22,49.08 L148.44,50.07 L148.62,51.11 L148.74,52.17 L148.82,53.24 Z" fill="#aeaeae" stroke="#444" stroke-width="0.55"/>
<path d="M147.70,54.40 L147.68,55.31 L147.61,56.22 L147.50,57.14 L147.35,58.03 L147.16,58.88 L146.93,59.70 L146.66,60.51 L146.34,61.28 L146.00,62.01 L145.63,62.67 L145.22,63.29 L144.78,63.86 L144.31,64.37 L143.83,64.83 L143.33,65.21 L142.81,65.52 L142.28,65.77 L141.72,65.95 L141.17,66.06 L140.62,66.10 L140.07,66.06 L139.52,65.95 L138.96,65.77 L138.43,65.52 L137.91,65.21 L137.41,64.83 L136.93,64.37 L136.46,63.86 L136.02,63.29 L135.61,62.67 L135.24,62.01 L134.90,61.28 L134.58,60.51 L134.31,59.70 L134.08,58.88 L133.89,58.03 L133.74,57.14 L133.63,56.22 L133.56,55.31 L133.54,54.40 L133.56,53.49 L133.63,52.58 L133.74,51.66 L133.89,50.77 L134.08,49.92 L134.31,49.10 L134.58,48.29 L134.90,47.52 L135.24,46.79 L135.61,46.13 L136.02,45.51 L136.46,44.94 L136.93,44.43 L137.41,43.97 L137.91,43.59 L138.43,43.28 L138.96,43.03 L139.52,42.85 L140.07,42.74 L140.62,42.70 L141.17,42.74 L141.72,42.85 L142.28,43.03 L142.81,43.28 L143.33,43.59 L143.83,43.97 L144.31,44.43 L144.78,44.94 L145.22,45.51 L145.63,46.13 L146.00,46.79 L146.34,47.52 L146.66,48.29 L146.93,49.10 L147.16,49.92 L147.35,50.77 L147.50,51.66 L147.61,52.58 L147.68,53.49 Z" fill="#a2a2a2" stroke="#444" stroke-width="0.55"/>
<path d="M146.55,54.50 L146.53,55.26 L146.47,56.02 L146.38,56.78 L146.26,57.52 L146.10,58.23 L145.91,58.92 L145.68,59.59 L145.42,60.23 L145.13,60.84 L144.82,61.39 L144.49,61.91 L144.12,62.38 L143.73,62.81 L143.32,63.19 L142.91,63.51 L142.48,63.77 L142.03,63.97 L141.57,64.13 L141.11,64.22 L140.65,64.25 L140.19,64.22 L139.73,64.13 L139.27,63.97 L138.82,63.77 L138.39,63.51 L137.98,63.19 L137.57,62.81 L137.18,62.38 L136.81,61.91 L136.48,61.39 L136.17,60.84 L135.88,60.23 L135.62,59.59 L135.39,58.92 L135.20,58.23 L135.04,57.52 L134.92,56.78 L134.83,56.02 L134.77,55.26 L134.75,54.50 L134.77,53.74 L134.83,52.98 L134.92,52.22 L135.04,51.48 L135.20,50.77 L135.39,50.08 L135.62,49.41 L135.88,48.77 L136.17,48.16 L136.48,47.61 L136.81,47.09 L137.18,46.62 L137.57,46.19 L137.98,45.81 L138.39,45.49 L138.82,45.23 L139.27,45.03 L139.73,44.87 L140.19,44.78 L140.65,44.75 L141.11,44.78 L141.57,44.87 L142.03,45.03 L142.48,45.23 L142.91,45.49 L143.32,45.81 L143.73,46.19 L144.12,46.62 L144.49,47.09 L144.82,47.61 L145.13,48.16 L145.42,48.77 L145.68,49.41 L145.91,50.08 L146.10,50.77 L146.26,51.48 L146.38,52.22 L146.47,52.98 L146.53,53.74 Z" fill="#979797" stroke="#444" stroke-width="0.55"/>
<path d="M145.40,54.60 L145.38,55.20 L145.34,55.82 L145.27,56.42 L145.17,57.02 L145.04,57.58 L144.89,58.13 L144.70,58.67 L144.50,59.19 L144.27,59.67 L144.02,60.12 L143.75,60.52 L143.45,60.90 L143.14,61.25 L142.82,61.55 L142.49,61.81 L142.14,62.01 L141.78,62.18 L141.42,62.30 L141.05,62.37 L140.68,62.40 L140.31,62.37 L139.94,62.30 L139.58,62.18 L139.22,62.01 L138.87,61.81 L138.54,61.55 L138.22,61.25 L137.91,60.90 L137.61,60.52 L137.34,60.12 L137.09,59.67 L136.86,59.19 L136.66,58.67 L136.47,58.13 L136.32,57.58 L136.19,57.02 L136.09,56.42 L136.02,55.82 L135.98,55.20 L135.96,54.60 L135.98,54.00 L136.02,53.38 L136.09,52.78 L136.19,52.18 L136.32,51.62 L136.47,51.07 L136.66,50.53 L136.86,50.01 L137.09,49.53 L137.34,49.08 L137.61,48.68 L137.91,48.30 L138.22,47.95 L138.54,47.65 L138.87,47.39 L139.22,47.19 L139.58,47.02 L139.94,46.90 L140.31,46.83 L140.68,46.80 L141.05,46.83 L141.42,46.90 L141.78,47.02 L142.14,47.19 L142.49,47.39 L142.82,47.65 L143.14,47.95 L143.45,48.30 L143.75,48.68 L144.02,49.08 L144.27,49.53 L144.50,50.01 L144.70,50.53 L144.89,51.07 L145.04,51.62 L145.17,52.18 L145.27,52.78 L145.34,53.38 L145.38,54.00 Z" fill="#8b8b8b" stroke="#444" stroke-width="0.55"/>
<path d="M144.25,54.70 L144.24,55.15 L144.20,55.61 L144.15,56.07 L144.07,56.51 L143.98,56.94 L143.87,57.35 L143.73,57.75 L143.57,58.14 L143.40,58.50 L143.21,58.84 L143.01,59.14 L142.79,59.43 L142.56,59.69 L142.31,59.91 L142.06,60.10 L141.81,60.26 L141.54,60.38 L141.26,60.48 L140.98,60.53 L140.71,60.55 L140.44,60.53 L140.16,60.48 L139.88,60.38 L139.61,60.26 L139.36,60.10 L139.11,59.91 L138.86,59.69 L138.63,59.43 L138.41,59.14 L138.21,58.84 L138.02,58.50 L137.85,58.14 L137.69,57.75 L137.55,57.35 L137.44,56.94 L137.35,56.51 L137.27,56.07 L137.22,55.61 L137.18,55.15 L137.17,54.70 L137.18,54.25 L137.22,53.79 L137.27,53.33 L137.35,52.89 L137.44,52.46 L137.55,52.05 L137.69,51.65 L137.85,51.26 L138.02,50.90 L138.21,50.56 L138.41,50.26 L138.63,49.97 L138.86,49.71 L139.11,49.49 L139.36,49.30 L139.61,49.14 L139.88,49.02 L140.16,48.92 L140.44,48.87 L140.71,48.85 L140.98,48.87 L141.26,48.92 L141.54,49.02 L141.81,49.14 L142.06,49.30 L142.31,49.49 L142.56,49.71 L142.79,49.97 L143.01,50.26 L143.21,50.56 L143.40,50.90 L143.57,51.26 L143.73,51.65 L143.87,52.05 L143.98,52.46 L144.07,52.89 L144.15,53.33 L144.20,53.79 L144.24,54.25 Z" fill="#808080" stroke="#444" stroke-width="0.55"/>
<ellipse cx="140.5" cy="55" rx="6" ry="11.5" fill="none" stroke="#3a3a3a" stroke-width="1.0" transform="rotate(0 140.5 55)" opacity="1"/>
<ellipse cx="141" cy="55" rx="2.2" ry="6" fill="#d0d0d0" stroke="none" stroke-width="1" transform="rotate(0 141 55)" opacity="1"/>
<path d="M127.3,38 L130.5,39 L130.8,54 L130.3,68 L127.3,68 Z" fill="#000"/>
<rect x="130.3" y="66.3" width="7.9" height="8" fill="#fff"/>
<rect x="127.6" y="67.8" width="3" height="6.5" fill="#fff"/>
<rect x="138.3" y="71.8" width="8.4" height="2.5" fill="#555"/>
<path d="M128.00,116.00 L128.90,114.20 L130.15,113.45 L131.65,113.34 L133.30,113.46 L135.00,113.40 L136.87,113.17 L138.98,113.03 L141.14,112.98 L143.21,113.04 L145.00,113.20 L146.52,113.43 L147.88,113.74 L149.08,114.16 L150.12,114.73 L151.00,115.50 L151.69,116.48 L152.18,117.63 L152.54,118.95 L152.79,120.41 L153.00,122.00 L153.14,123.81 L153.17,125.84 L153.13,127.98 L153.06,130.07 L153.00,132.00 L152.95,133.74 L152.88,135.39 L152.80,136.97 L152.67,138.50 L152.50,140.00 L152.42,141.57 L152.43,143.18 L152.33,144.72 L151.92,146.03 L151.00,147.00 L149.39,147.53 L147.24,147.72 L144.78,147.68 L142.29,147.57 L140.00,147.50 L137.81,147.60 L135.54,147.78 L133.38,147.86 L131.47,147.66 L130.00,147.00 L129.06,145.95 L128.53,144.64 L128.27,142.94 L128.14,140.77 L128.00,138.00 L127.76,134.12 L127.52,129.20 L127.40,124.03 L127.52,119.37 Z" fill="#f0f0f0" stroke="#888" stroke-width="0.5" opacity="1"/>
<path d="M151,140 C155,134 159,127 163,118 M152,130 C156,126 158,122 160,117 M151,122 C155,121 158,120 162,117" fill="none" stroke="#aaa" stroke-width="0.5"/>
<ellipse cx="160.8" cy="120.4" rx="1.4" ry="1.2" fill="none" stroke="#999" stroke-width="0.5" transform="rotate(0 160.8 120.4)" opacity="1"/>
<path d="M152.30,130.50 L152.26,131.74 L152.15,132.99 L151.97,134.24 L151.72,135.46 L151.40,136.62 L151.02,137.75 L150.56,138.85 L150.04,139.91 L149.46,140.90 L148.84,141.81 L148.17,142.65 L147.44,143.43 L146.66,144.14 L145.85,144.76 L145.02,145.28 L144.16,145.71 L143.26,146.05 L142.34,146.30 L141.41,146.45 L140.50,146.50 L139.59,146.45 L138.66,146.30 L137.74,146.05 L136.84,145.71 L135.98,145.28 L135.15,144.76 L134.34,144.14 L133.56,143.43 L132.83,142.65 L132.16,141.81 L131.54,140.90 L130.96,139.91 L130.44,138.85 L129.98,137.75 L129.60,136.62 L129.28,135.46 L129.03,134.24 L128.85,132.99 L128.74,131.74 L128.70,130.50 L128.74,129.26 L128.85,128.01 L129.03,126.76 L129.28,125.54 L129.60,124.38 L129.98,123.25 L130.44,122.15 L130.96,121.09 L131.54,120.10 L132.16,119.19 L132.83,118.35 L133.56,117.57 L134.34,116.86 L135.15,116.24 L135.98,115.72 L136.84,115.29 L137.74,114.95 L138.66,114.70 L139.59,114.55 L140.50,114.50 L141.41,114.55 L142.34,114.70 L143.26,114.95 L144.16,115.29 L145.02,115.72 L145.85,116.24 L146.66,116.86 L147.44,117.57 L148.17,118.35 L148.84,119.19 L149.46,120.10 L150.04,121.09 L150.56,122.15 L151.02,123.25 L151.40,124.38 L151.72,125.54 L151.97,126.76 L152.15,128.01 L152.26,129.26 Z" fill="#d0d0d0" stroke="#444" stroke-width="0.55"/>
<path d="M151.15,130.50 L151.12,131.62 L151.01,132.74 L150.85,133.87 L150.62,134.96 L150.34,136.01 L150.00,137.02 L149.58,138.01 L149.11,138.97 L148.60,139.86 L148.04,140.68 L147.43,141.44 L146.77,142.14 L146.07,142.78 L145.34,143.33 L144.59,143.80 L143.82,144.19 L143.01,144.49 L142.19,144.72 L141.35,144.85 L140.53,144.90 L139.71,144.85 L138.87,144.72 L138.05,144.49 L137.24,144.19 L136.47,143.80 L135.72,143.33 L134.99,142.78 L134.29,142.14 L133.63,141.44 L133.02,140.68 L132.46,139.86 L131.95,138.97 L131.48,138.01 L131.06,137.02 L130.72,136.01 L130.44,134.96 L130.21,133.87 L130.05,132.74 L129.94,131.62 L129.91,130.50 L129.94,129.38 L130.05,128.26 L130.21,127.13 L130.44,126.04 L130.72,124.99 L131.06,123.98 L131.48,122.99 L131.95,122.03 L132.46,121.14 L133.02,120.32 L133.63,119.56 L134.29,118.86 L134.99,118.22 L135.72,117.67 L136.47,117.20 L137.24,116.81 L138.05,116.51 L138.87,116.28 L139.71,116.15 L140.53,116.10 L141.35,116.15 L142.19,116.28 L143.01,116.51 L143.82,116.81 L144.59,117.20 L145.34,117.67 L146.07,118.22 L146.77,118.86 L147.43,119.56 L148.04,120.32 L148.60,121.14 L149.11,122.03 L149.58,122.99 L150.00,123.98 L150.34,124.99 L150.62,126.04 L150.85,127.13 L151.01,128.26 L151.12,129.38 Z" fill="#c5c5c5" stroke="#444" stroke-width="0.55"/>
<path d="M150.00,130.50 L149.97,131.49 L149.88,132.50 L149.73,133.49 L149.53,134.47 L149.28,135.40 L148.97,136.30 L148.61,137.18 L148.19,138.02 L147.73,138.82 L147.24,139.55 L146.70,140.22 L146.11,140.85 L145.49,141.41 L144.84,141.91 L144.17,142.33 L143.49,142.67 L142.77,142.94 L142.03,143.14 L141.29,143.26 L140.56,143.30 L139.83,143.26 L139.09,143.14 L138.35,142.94 L137.63,142.67 L136.95,142.33 L136.28,141.91 L135.63,141.41 L135.01,140.85 L134.42,140.22 L133.88,139.55 L133.39,138.82 L132.93,138.02 L132.51,137.18 L132.15,136.30 L131.84,135.40 L131.59,134.47 L131.39,133.49 L131.24,132.50 L131.15,131.49 L131.12,130.50 L131.15,129.51 L131.24,128.50 L131.39,127.51 L131.59,126.53 L131.84,125.60 L132.15,124.70 L132.51,123.82 L132.93,122.98 L133.39,122.18 L133.88,121.45 L134.42,120.78 L135.01,120.15 L135.63,119.59 L136.28,119.09 L136.95,118.67 L137.63,118.33 L138.35,118.06 L139.09,117.86 L139.83,117.74 L140.56,117.70 L141.29,117.74 L142.03,117.86 L142.77,118.06 L143.49,118.33 L144.17,118.67 L144.84,119.09 L145.49,119.59 L146.11,120.15 L146.70,120.78 L147.24,121.45 L147.73,122.18 L148.19,122.98 L148.61,123.82 L148.97,124.70 L149.28,125.60 L149.53,126.53 L149.73,127.51 L149.88,128.50 L149.97,129.51 Z" fill="#b9b9b9" stroke="#444" stroke-width="0.55"/>
<path d="M148.85,130.50 L148.82,131.37 L148.74,132.25 L148.62,133.12 L148.44,133.97 L148.22,134.79 L147.95,135.57 L147.63,136.34 L147.27,137.08 L146.86,137.78 L146.43,138.42 L145.96,139.01 L145.45,139.55 L144.90,140.05 L144.33,140.48 L143.75,140.85 L143.15,141.15 L142.52,141.38 L141.88,141.56 L141.23,141.66 L140.59,141.70 L139.95,141.66 L139.30,141.56 L138.66,141.38 L138.03,141.15 L137.43,140.85 L136.85,140.48 L136.28,140.05 L135.73,139.55 L135.22,139.01 L134.75,138.42 L134.32,137.78 L133.91,137.08 L133.55,136.34 L133.23,135.57 L132.96,134.79 L132.74,133.97 L132.56,133.12 L132.44,132.25 L132.36,131.37 L132.33,130.50 L132.36,129.63 L132.44,128.75 L132.56,127.88 L132.74,127.03 L132.96,126.21 L133.23,125.43 L133.55,124.66 L133.91,123.92 L134.32,123.22 L134.75,122.58 L135.22,121.99 L135.73,121.45 L136.28,120.95 L136.85,120.52 L137.43,120.15 L138.03,119.85 L138.66,119.62 L139.30,119.44 L139.95,119.34 L140.59,119.30 L141.23,119.34 L141.88,119.44 L142.52,119.62 L143.15,119.85 L143.75,120.15 L144.33,120.52 L144.90,120.95 L145.45,121.45 L145.96,121.99 L146.43,122.58 L146.86,123.22 L147.27,123.92 L147.63,124.66 L147.95,125.43 L148.22,126.21 L148.44,127.03 L148.62,127.88 L148.74,128.75 L148.82,129.63 Z" fill="#aeaeae" stroke="#444" stroke-width="0.55"/>
<path d="M147.70,130.50 L147.68,131.24 L147.61,132.00 L147.50,132.74 L147.35,133.47 L147.16,134.17 L146.93,134.85 L146.66,135.51 L146.34,136.14 L146.00,136.74 L145.63,137.29 L145.22,137.79 L144.78,138.26 L144.31,138.68 L143.83,139.06 L143.33,139.37 L142.81,139.63 L142.28,139.83 L141.72,139.98 L141.17,140.07 L140.62,140.10 L140.07,140.07 L139.52,139.98 L138.96,139.83 L138.43,139.63 L137.91,139.37 L137.41,139.06 L136.93,138.68 L136.46,138.26 L136.02,137.79 L135.61,137.29 L135.24,136.74 L134.90,136.14 L134.58,135.51 L134.31,134.85 L134.08,134.17 L133.89,133.47 L133.74,132.74 L133.63,132.00 L133.56,131.24 L133.54,130.50 L133.56,129.76 L133.63,129.00 L133.74,128.26 L133.89,127.53 L134.08,126.83 L134.31,126.15 L134.58,125.49 L134.90,124.86 L135.24,124.26 L135.61,123.71 L136.02,123.21 L136.46,122.74 L136.93,122.32 L137.41,121.94 L137.91,121.63 L138.43,121.37 L138.96,121.17 L139.52,121.02 L140.07,120.93 L140.62,120.90 L141.17,120.93 L141.72,121.02 L142.28,121.17 L142.81,121.37 L143.33,121.63 L143.83,121.94 L144.31,122.32 L144.78,122.74 L145.22,123.21 L145.63,123.71 L146.00,124.26 L146.34,124.86 L146.66,125.49 L146.93,126.15 L147.16,126.83 L147.35,127.53 L147.50,128.26 L147.61,129.00 L147.68,129.76 Z" fill="#a2a2a2" stroke="#444" stroke-width="0.55"/>
<path d="M146.55,130.50 L146.53,131.12 L146.47,131.75 L146.38,132.37 L146.26,132.98 L146.10,133.56 L145.91,134.12 L145.68,134.67 L145.42,135.20 L145.13,135.70 L144.82,136.16 L144.49,136.58 L144.12,136.97 L143.73,137.32 L143.32,137.63 L142.91,137.89 L142.48,138.10 L142.03,138.27 L141.57,138.40 L141.11,138.47 L140.65,138.50 L140.19,138.47 L139.73,138.40 L139.27,138.27 L138.82,138.10 L138.39,137.89 L137.98,137.63 L137.57,137.32 L137.18,136.97 L136.81,136.58 L136.48,136.16 L136.17,135.70 L135.88,135.20 L135.62,134.67 L135.39,134.12 L135.20,133.56 L135.04,132.98 L134.92,132.37 L134.83,131.75 L134.77,131.12 L134.75,130.50 L134.77,129.88 L134.83,129.25 L134.92,128.63 L135.04,128.02 L135.20,127.44 L135.39,126.88 L135.62,126.33 L135.88,125.80 L136.17,125.30 L136.48,124.84 L136.81,124.42 L137.18,124.03 L137.57,123.68 L137.98,123.37 L138.39,123.11 L138.82,122.90 L139.27,122.73 L139.73,122.60 L140.19,122.53 L140.65,122.50 L141.11,122.53 L141.57,122.60 L142.03,122.73 L142.48,122.90 L142.91,123.11 L143.32,123.37 L143.73,123.68 L144.12,124.03 L144.49,124.42 L144.82,124.84 L145.13,125.30 L145.42,125.80 L145.68,126.33 L145.91,126.88 L146.10,127.44 L146.26,128.02 L146.38,128.63 L146.47,129.25 L146.53,129.88 Z" fill="#979797" stroke="#444" stroke-width="0.55"/>
<path d="M145.40,130.50 L145.38,131.00 L145.34,131.50 L145.27,132.00 L145.17,132.48 L145.04,132.95 L144.89,133.40 L144.70,133.84 L144.50,134.26 L144.27,134.66 L144.02,135.03 L143.75,135.36 L143.45,135.67 L143.14,135.96 L142.82,136.20 L142.49,136.41 L142.14,136.58 L141.78,136.72 L141.42,136.82 L141.05,136.88 L140.68,136.90 L140.31,136.88 L139.94,136.82 L139.58,136.72 L139.22,136.58 L138.87,136.41 L138.54,136.20 L138.22,135.96 L137.91,135.67 L137.61,135.36 L137.34,135.03 L137.09,134.66 L136.86,134.26 L136.66,133.84 L136.47,133.40 L136.32,132.95 L136.19,132.48 L136.09,132.00 L136.02,131.50 L135.98,131.00 L135.96,130.50 L135.98,130.00 L136.02,129.50 L136.09,129.00 L136.19,128.52 L136.32,128.05 L136.47,127.60 L136.66,127.16 L136.86,126.74 L137.09,126.34 L137.34,125.97 L137.61,125.64 L137.91,125.33 L138.22,125.04 L138.54,124.80 L138.87,124.59 L139.22,124.42 L139.58,124.28 L139.94,124.18 L140.31,124.12 L140.68,124.10 L141.05,124.12 L141.42,124.18 L141.78,124.28 L142.14,124.42 L142.49,124.59 L142.82,124.80 L143.14,125.04 L143.45,125.33 L143.75,125.64 L144.02,125.97 L144.27,126.34 L144.50,126.74 L144.70,127.16 L144.89,127.60 L145.04,128.05 L145.17,128.52 L145.27,129.00 L145.34,129.50 L145.38,130.00 Z" fill="#8b8b8b" stroke="#444" stroke-width="0.55"/>
<path d="M144.25,130.50 L144.24,130.87 L144.20,131.25 L144.15,131.62 L144.07,131.99 L143.98,132.34 L143.87,132.67 L143.73,133.00 L143.57,133.32 L143.40,133.62 L143.21,133.89 L143.01,134.15 L142.79,134.38 L142.56,134.59 L142.31,134.78 L142.06,134.93 L141.81,135.06 L141.54,135.16 L141.26,135.24 L140.98,135.28 L140.71,135.30 L140.44,135.28 L140.16,135.24 L139.88,135.16 L139.61,135.06 L139.36,134.93 L139.11,134.78 L138.86,134.59 L138.63,134.38 L138.41,134.15 L138.21,133.89 L138.02,133.62 L137.85,133.32 L137.69,133.00 L137.55,132.67 L137.44,132.34 L137.35,131.99 L137.27,131.62 L137.22,131.25 L137.18,130.87 L137.17,130.50 L137.18,130.13 L137.22,129.75 L137.27,129.38 L137.35,129.01 L137.44,128.66 L137.55,128.33 L137.69,128.00 L137.85,127.68 L138.02,127.38 L138.21,127.11 L138.41,126.85 L138.63,126.62 L138.86,126.41 L139.11,126.22 L139.36,126.07 L139.61,125.94 L139.88,125.84 L140.16,125.76 L140.44,125.72 L140.71,125.70 L140.98,125.72 L141.26,125.76 L141.54,125.84 L141.81,125.94 L142.06,126.07 L142.31,126.22 L142.56,126.41 L142.79,126.62 L143.01,126.85 L143.21,127.11 L143.40,127.38 L143.57,127.68 L143.73,128.00 L143.87,128.33 L143.98,128.66 L144.07,129.01 L144.15,129.38 L144.20,129.75 L144.24,130.13 Z" fill="#808080" stroke="#444" stroke-width="0.55"/>
<ellipse cx="141" cy="130" rx="5.5" ry="7.5" fill="none" stroke="#3a3a3a" stroke-width="1.1" transform="rotate(0 141 130)" opacity="1"/>
<ellipse cx="141" cy="128" rx="1.8" ry="2.5" fill="#c8c8c8" stroke="none" stroke-width="1" transform="rotate(0 141 128)" opacity="1"/>
<path d="M127.1,117 C129.5,120 130.5,127 130,131 C129.8,134 129,136 127.1,136.6 Z" fill="#0d0d0d"/>
<rect x="137" y="145.5" width="10" height="2" fill="#555"/>
<path d="M72.17,217.22 L72.17,217.65 L72.13,218.10 L72.03,218.54 L71.87,218.98 L71.67,219.41 L71.41,219.83 L71.10,220.24 L70.73,220.65 L70.33,221.03 L69.88,221.39 L69.40,221.73 L68.87,222.05 L68.29,222.35 L67.70,222.62 L67.08,222.85 L66.44,223.06 L65.77,223.24 L65.08,223.39 L64.38,223.50 L63.69,223.58 L62.99,223.62 L62.28,223.63 L61.58,223.60 L60.89,223.55 L60.22,223.45 L59.57,223.33 L58.94,223.16 L58.32,222.97 L57.74,222.75 L57.21,222.50 L56.71,222.22 L56.24,221.91 L55.81,221.58 L55.43,221.23 L55.10,220.86 L54.83,220.47 L54.60,220.07 L54.42,219.64 L54.30,219.21 L54.23,218.78 L54.23,218.35 L54.27,217.90 L54.37,217.46 L54.53,217.02 L54.73,216.59 L54.99,216.17 L55.30,215.76 L55.67,215.35 L56.07,214.97 L56.52,214.61 L57.00,214.27 L57.53,213.95 L58.11,213.65 L58.70,213.38 L59.32,213.15 L59.96,212.94 L60.63,212.76 L61.32,212.61 L62.02,212.50 L62.71,212.42 L63.41,212.38 L64.12,212.37 L64.82,212.40 L65.51,212.45 L66.18,212.55 L66.83,212.67 L67.46,212.84 L68.08,213.03 L68.66,213.25 L69.19,213.50 L69.69,213.78 L70.16,214.09 L70.59,214.42 L70.97,214.77 L71.30,215.14 L71.57,215.53 L71.80,215.93 L71.98,216.36 L72.10,216.79 Z" fill="#f4f4f4" stroke="#777" stroke-width="0.55"/>
<path d="M70.03,217.40 L70.03,217.73 L70.00,218.07 L69.92,218.42 L69.80,218.75 L69.65,219.08 L69.45,219.40 L69.21,219.72 L68.93,220.03 L68.62,220.32 L68.28,220.60 L67.91,220.86 L67.50,221.10 L67.06,221.33 L66.60,221.54 L66.13,221.72 L65.64,221.88 L65.12,222.02 L64.59,222.13 L64.06,222.22 L63.53,222.28 L62.99,222.31 L62.45,222.32 L61.91,222.30 L61.38,222.25 L60.87,222.18 L60.37,222.08 L59.89,221.96 L59.41,221.81 L58.97,221.64 L58.56,221.45 L58.18,221.24 L57.82,221.00 L57.49,220.74 L57.20,220.47 L56.95,220.19 L56.74,219.90 L56.56,219.58 L56.43,219.26 L56.33,218.93 L56.28,218.60 L56.27,218.27 L56.31,217.93 L56.39,217.58 L56.50,217.25 L56.66,216.92 L56.86,216.60 L57.10,216.28 L57.38,215.97 L57.69,215.68 L58.03,215.40 L58.40,215.14 L58.81,214.90 L59.25,214.67 L59.71,214.46 L60.18,214.28 L60.67,214.12 L61.18,213.98 L61.71,213.87 L62.25,213.78 L62.78,213.72 L63.31,213.69 L63.86,213.68 L64.40,213.70 L64.93,213.75 L65.44,213.82 L65.93,213.92 L66.42,214.04 L66.89,214.19 L67.34,214.36 L67.75,214.55 L68.13,214.76 L68.49,215.00 L68.82,215.26 L69.11,215.53 L69.36,215.81 L69.57,216.10 L69.75,216.42 L69.88,216.74 L69.98,217.07 Z" fill="#ececec" stroke="#777" stroke-width="0.55"/>
<path d="M67.89,217.58 L67.89,217.81 L67.87,218.05 L67.81,218.29 L67.73,218.52 L67.62,218.75 L67.49,218.98 L67.32,219.20 L67.12,219.41 L66.91,219.62 L66.67,219.81 L66.41,219.99 L66.13,220.16 L65.82,220.32 L65.50,220.46 L65.18,220.59 L64.84,220.70 L64.48,220.79 L64.11,220.87 L63.74,220.93 L63.37,220.98 L63.00,221.00 L62.62,221.00 L62.24,220.99 L61.87,220.96 L61.52,220.91 L61.17,220.84 L60.83,220.75 L60.51,220.65 L60.20,220.53 L59.91,220.40 L59.64,220.25 L59.39,220.09 L59.17,219.91 L58.96,219.72 L58.79,219.53 L58.64,219.32 L58.52,219.10 L58.43,218.88 L58.36,218.65 L58.32,218.42 L58.32,218.19 L58.35,217.95 L58.40,217.71 L58.48,217.48 L58.59,217.25 L58.73,217.02 L58.89,216.80 L59.09,216.59 L59.31,216.38 L59.54,216.19 L59.80,216.01 L60.09,215.84 L60.39,215.68 L60.71,215.54 L61.04,215.41 L61.38,215.30 L61.74,215.21 L62.10,215.13 L62.48,215.07 L62.85,215.02 L63.22,215.00 L63.60,215.00 L63.97,215.01 L64.34,215.04 L64.70,215.09 L65.04,215.16 L65.38,215.25 L65.71,215.35 L66.02,215.47 L66.30,215.60 L66.57,215.75 L66.82,215.91 L67.05,216.09 L67.25,216.28 L67.42,216.47 L67.57,216.68 L67.69,216.90 L67.79,217.12 L67.85,217.35 Z" fill="#e4e4e4" stroke="#777" stroke-width="0.55"/>
<path d="M65.75,217.76 L65.75,217.90 L65.74,218.03 L65.71,218.16 L65.66,218.29 L65.60,218.42 L65.52,218.55 L65.43,218.67 L65.32,218.79 L65.20,218.91 L65.07,219.02 L64.92,219.12 L64.76,219.21 L64.59,219.30 L64.41,219.38 L64.22,219.46 L64.03,219.52 L63.83,219.57 L63.62,219.62 L63.41,219.65 L63.21,219.67 L63.00,219.69 L62.79,219.69 L62.57,219.68 L62.37,219.66 L62.17,219.64 L61.97,219.60 L61.78,219.55 L61.60,219.49 L61.42,219.42 L61.26,219.35 L61.11,219.27 L60.97,219.17 L60.84,219.07 L60.73,218.97 L60.63,218.86 L60.55,218.74 L60.48,218.62 L60.43,218.49 L60.39,218.36 L60.37,218.24 L60.37,218.10 L60.38,217.97 L60.41,217.84 L60.46,217.71 L60.52,217.58 L60.60,217.45 L60.69,217.33 L60.80,217.21 L60.92,217.09 L61.05,216.98 L61.20,216.88 L61.36,216.79 L61.53,216.70 L61.71,216.62 L61.90,216.54 L62.09,216.48 L62.29,216.43 L62.50,216.38 L62.71,216.35 L62.91,216.33 L63.12,216.31 L63.33,216.31 L63.55,216.32 L63.75,216.34 L63.95,216.36 L64.15,216.40 L64.34,216.45 L64.52,216.51 L64.70,216.58 L64.86,216.65 L65.01,216.73 L65.15,216.83 L65.28,216.93 L65.39,217.03 L65.49,217.14 L65.57,217.26 L65.64,217.38 L65.69,217.51 L65.73,217.64 Z" fill="#dcdcdc" stroke="#777" stroke-width="0.55"/>
<ellipse cx="65.4" cy="207.2" rx="3.2" ry="1.8" fill="none" stroke="#8a8a8a" stroke-width="0.5" transform="rotate(-35 65.4 207.2)" opacity="1"/>
<path d="M74.40,214.00 L74.75,212.79 L75.35,211.74 L76.14,210.78 L77.04,209.89 L78.00,209.00 L79.01,208.11 L80.13,207.25 L81.34,206.43 L82.63,205.68 L84.00,205.00 L85.52,204.39 L87.20,203.83 L88.92,203.35 L90.56,202.97 L92.00,202.70 L93.22,202.52 L94.31,202.41 L95.29,202.42 L96.18,202.60 L97.00,203.00 L97.77,203.65 L98.46,204.52 L99.08,205.56 L99.59,206.73 L100.00,208.00 L100.30,209.41 L100.50,210.98 L100.60,212.66 L100.60,214.35 L100.50,216.00 L100.33,217.65 L100.10,219.34 L99.74,221.02 L99.23,222.59 L98.50,224.00 L97.54,225.29 L96.39,226.50 L95.07,227.58 L93.60,228.43 L92.00,229.00 L90.16,229.26 L88.06,229.27 L85.88,229.05 L83.80,228.62 L82.00,228.00 L80.47,227.15 L79.10,226.06 L77.89,224.78 L76.85,223.41 L76.00,222.00 L75.32,220.48 L74.79,218.80 L74.45,217.08 L74.32,215.44 Z" fill="#e8e8e8" stroke="#4a4a4a" stroke-width="0.45"/>
<path d="M75.61,214.27 L75.93,213.17 L76.47,212.20 L77.19,211.34 L78.02,210.52 L78.89,209.71 L79.81,208.90 L80.83,208.11 L81.93,207.37 L83.11,206.68 L84.36,206.07 L85.74,205.51 L87.27,205.00 L88.84,204.56 L90.33,204.21 L91.64,203.97 L92.76,203.81 L93.75,203.70 L94.64,203.71 L95.45,203.88 L96.20,204.24 L96.90,204.84 L97.53,205.63 L98.09,206.58 L98.56,207.65 L98.93,208.80 L99.21,210.08 L99.39,211.52 L99.48,213.04 L99.48,214.59 L99.39,216.09 L99.24,217.59 L99.02,219.14 L98.70,220.66 L98.23,222.09 L97.57,223.38 L96.70,224.55 L95.65,225.66 L94.44,226.64 L93.10,227.42 L91.64,227.93 L89.97,228.17 L88.05,228.18 L86.07,227.98 L84.17,227.58 L82.53,227.02 L81.14,226.25 L79.89,225.25 L78.79,224.09 L77.85,222.84 L77.07,221.56 L76.44,220.17 L75.97,218.64 L75.66,217.07 L75.53,215.58 Z" fill="#dadada" stroke="#4a4a4a" stroke-width="0.45"/>
<path d="M76.82,214.53 L77.10,213.54 L77.60,212.67 L78.25,211.89 L78.99,211.15 L79.78,210.42 L80.61,209.69 L81.53,208.98 L82.52,208.31 L83.59,207.69 L84.71,207.13 L85.96,206.63 L87.34,206.17 L88.76,205.78 L90.10,205.46 L91.29,205.24 L92.30,205.09 L93.19,205.00 L93.99,205.01 L94.72,205.16 L95.40,205.49 L96.03,206.02 L96.60,206.74 L97.11,207.59 L97.53,208.56 L97.87,209.60 L98.11,210.76 L98.28,212.05 L98.36,213.43 L98.36,214.82 L98.28,216.18 L98.14,217.53 L97.95,218.93 L97.66,220.30 L97.23,221.60 L96.63,222.76 L95.85,223.81 L94.90,224.81 L93.81,225.70 L92.60,226.40 L91.29,226.87 L89.78,227.08 L88.05,227.09 L86.26,226.91 L84.55,226.55 L83.07,226.04 L81.81,225.35 L80.68,224.45 L79.69,223.40 L78.84,222.27 L78.13,221.11 L77.57,219.86 L77.14,218.48 L76.86,217.07 L76.75,215.72 Z" fill="#cccccc" stroke="#4a4a4a" stroke-width="0.45"/>
<path d="M78.03,214.80 L78.28,213.91 L78.72,213.14 L79.30,212.44 L79.97,211.78 L80.67,211.13 L81.41,210.48 L82.23,209.85 L83.12,209.25 L84.06,208.70 L85.07,208.20 L86.18,207.75 L87.41,207.34 L88.67,206.99 L89.88,206.71 L90.93,206.51 L91.83,206.38 L92.63,206.30 L93.34,206.31 L94.00,206.44 L94.60,206.73 L95.16,207.21 L95.67,207.85 L96.12,208.61 L96.50,209.47 L96.80,210.40 L97.02,211.43 L97.17,212.59 L97.24,213.81 L97.24,215.06 L97.17,216.27 L97.04,217.48 L96.87,218.72 L96.61,219.95 L96.23,221.10 L95.70,222.13 L95.00,223.08 L94.15,223.97 L93.18,224.76 L92.10,225.38 L90.93,225.80 L89.58,225.99 L88.04,226.00 L86.45,225.84 L84.92,225.52 L83.60,225.07 L82.48,224.44 L81.47,223.64 L80.59,222.71 L79.83,221.70 L79.20,220.67 L78.70,219.55 L78.32,218.32 L78.07,217.06 L77.97,215.86 Z" fill="#bebebe" stroke="#4a4a4a" stroke-width="0.45"/>
<path d="M79.24,215.07 L79.46,214.29 L79.85,213.61 L80.36,212.99 L80.94,212.42 L81.56,211.84 L82.21,211.27 L82.93,210.71 L83.71,210.19 L84.54,209.70 L85.42,209.27 L86.40,208.87 L87.48,208.51 L88.59,208.20 L89.65,207.96 L90.58,207.78 L91.37,207.67 L92.07,207.60 L92.70,207.60 L93.27,207.72 L93.80,207.98 L94.29,208.40 L94.74,208.96 L95.14,209.63 L95.47,210.38 L95.73,211.20 L95.93,212.11 L96.06,213.12 L96.12,214.20 L96.12,215.29 L96.06,216.36 L95.95,217.42 L95.80,218.51 L95.57,219.59 L95.24,220.60 L94.77,221.51 L94.15,222.34 L93.41,223.12 L92.55,223.82 L91.61,224.37 L90.58,224.73 L89.39,224.90 L88.04,224.91 L86.63,224.76 L85.29,224.49 L84.13,224.09 L83.15,223.54 L82.26,222.84 L81.49,222.02 L80.82,221.13 L80.27,220.22 L79.83,219.24 L79.49,218.16 L79.27,217.05 L79.18,215.99 Z" fill="#b0b0b0" stroke="#4a4a4a" stroke-width="0.45"/>
<path d="M80.44,215.33 L80.64,214.66 L80.97,214.08 L81.41,213.55 L81.91,213.05 L82.44,212.56 L83.01,212.06 L83.63,211.58 L84.30,211.13 L85.02,210.71 L85.78,210.33 L86.62,209.99 L87.56,209.68 L88.51,209.42 L89.42,209.20 L90.22,209.06 L90.90,208.95 L91.51,208.89 L92.05,208.90 L92.54,209.00 L93.00,209.22 L93.43,209.58 L93.81,210.07 L94.15,210.64 L94.44,211.30 L94.67,212.00 L94.83,212.78 L94.94,213.66 L95.00,214.59 L95.00,215.53 L94.94,216.44 L94.85,217.36 L94.72,218.30 L94.52,219.23 L94.24,220.11 L93.83,220.89 L93.30,221.60 L92.66,222.28 L91.93,222.88 L91.11,223.35 L90.22,223.67 L89.20,223.81 L88.03,223.82 L86.82,223.69 L85.67,223.45 L84.67,223.11 L83.82,222.64 L83.06,222.03 L82.38,221.32 L81.81,220.56 L81.33,219.78 L80.95,218.93 L80.66,218.00 L80.47,217.04 L80.40,216.13 Z" fill="#a2a2a2" stroke="#4a4a4a" stroke-width="0.45"/>
<path d="M81.65,215.60 L81.82,215.04 L82.10,214.54 L82.46,214.10 L82.89,213.68 L83.33,213.27 L83.81,212.85 L84.33,212.45 L84.89,212.07 L85.50,211.72 L86.13,211.40 L86.84,211.12 L87.63,210.86 L88.43,210.63 L89.19,210.45 L89.87,210.33 L90.44,210.24 L90.95,210.19 L91.40,210.19 L91.82,210.28 L92.20,210.47 L92.56,210.77 L92.88,211.17 L93.17,211.66 L93.41,212.21 L93.60,212.80 L93.74,213.46 L93.83,214.19 L93.88,214.97 L93.88,215.76 L93.83,216.53 L93.75,217.30 L93.64,218.09 L93.48,218.87 L93.24,219.61 L92.90,220.27 L92.45,220.87 L91.92,221.44 L91.30,221.94 L90.61,222.33 L89.87,222.60 L89.01,222.72 L88.03,222.73 L87.01,222.62 L86.04,222.42 L85.20,222.13 L84.49,221.74 L83.85,221.23 L83.28,220.63 L82.80,219.99 L82.40,219.33 L82.08,218.62 L81.84,217.84 L81.68,217.04 L81.61,216.27 Z" fill="#949494" stroke="#4a4a4a" stroke-width="0.45"/>
<path d="M82.86,215.87 L82.99,215.41 L83.22,215.01 L83.52,214.65 L83.86,214.31 L84.22,213.98 L84.61,213.64 L85.03,213.32 L85.48,213.01 L85.97,212.72 L86.49,212.47 L87.06,212.24 L87.70,212.03 L88.35,211.84 L88.97,211.70 L89.51,211.60 L89.97,211.53 L90.38,211.49 L90.75,211.49 L91.09,211.56 L91.40,211.71 L91.69,211.96 L91.95,212.28 L92.18,212.68 L92.38,213.12 L92.53,213.60 L92.65,214.13 L92.72,214.73 L92.76,215.36 L92.76,216.00 L92.72,216.62 L92.66,217.24 L92.57,217.89 L92.44,218.52 L92.24,219.11 L91.97,219.64 L91.61,220.13 L91.17,220.59 L90.67,221.00 L90.11,221.32 L89.51,221.53 L88.82,221.63 L88.02,221.64 L87.20,221.55 L86.41,221.39 L85.73,221.16 L85.16,220.84 L84.64,220.42 L84.18,219.94 L83.79,219.42 L83.47,218.89 L83.21,218.31 L83.01,217.68 L82.88,217.03 L82.83,216.41 Z" fill="#868686" stroke="#4a4a4a" stroke-width="0.45"/>
<path d="M84.07,216.13 L84.17,215.78 L84.35,215.48 L84.57,215.20 L84.83,214.95 L85.11,214.69 L85.40,214.43 L85.73,214.18 L86.08,213.95 L86.45,213.73 L86.84,213.53 L87.28,213.36 L87.77,213.20 L88.27,213.06 L88.74,212.95 L89.16,212.87 L89.51,212.82 L89.82,212.78 L90.11,212.79 L90.36,212.84 L90.60,212.96 L90.82,213.14 L91.02,213.39 L91.20,213.69 L91.35,214.03 L91.47,214.40 L91.55,214.81 L91.61,215.26 L91.64,215.75 L91.64,216.24 L91.61,216.71 L91.56,217.19 L91.49,217.68 L91.39,218.16 L91.24,218.62 L91.03,219.02 L90.76,219.39 L90.42,219.75 L90.04,220.06 L89.62,220.30 L89.16,220.47 L88.62,220.54 L88.02,220.55 L87.39,220.48 L86.79,220.36 L86.27,220.18 L85.83,219.93 L85.43,219.62 L85.08,219.25 L84.78,218.85 L84.53,218.44 L84.34,218.01 L84.18,217.52 L84.09,217.02 L84.05,216.55 Z" fill="#787878" stroke="#4a4a4a" stroke-width="0.45"/>
<path d="M85.28,216.40 L85.35,216.16 L85.47,215.95 L85.63,215.76 L85.81,215.58 L86.00,215.40 L86.20,215.22 L86.43,215.05 L86.67,214.89 L86.93,214.74 L87.20,214.60 L87.50,214.48 L87.84,214.37 L88.18,214.27 L88.51,214.19 L88.80,214.14 L89.04,214.10 L89.26,214.08 L89.46,214.08 L89.64,214.12 L89.80,214.20 L89.95,214.33 L90.09,214.50 L90.22,214.71 L90.32,214.95 L90.40,215.20 L90.46,215.48 L90.50,215.80 L90.52,216.13 L90.52,216.47 L90.50,216.80 L90.47,217.13 L90.42,217.47 L90.35,217.80 L90.25,218.12 L90.10,218.40 L89.91,218.66 L89.68,218.90 L89.41,219.12 L89.12,219.29 L88.80,219.40 L88.43,219.45 L88.01,219.45 L87.58,219.41 L87.16,219.32 L86.80,219.20 L86.49,219.03 L86.22,218.81 L85.98,218.56 L85.77,218.28 L85.60,218.00 L85.46,217.70 L85.36,217.36 L85.29,217.02 L85.26,216.69 Z" fill="#6a6a6a" stroke="#4a4a4a" stroke-width="0.45"/>
<ellipse cx="89.5" cy="218" rx="5.5" ry="4.0" fill="#3a3a3a" stroke="none" stroke-width="1" transform="rotate(0 89.5 218)" opacity="1"/>
<ellipse cx="88.5" cy="218.4" rx="2.2" ry="1.2" fill="#f0f0f0" stroke="none" stroke-width="1" transform="rotate(0 88.5 218.4)" opacity="1"/>
<path d="M74.20,264.00 L74.27,262.51 L74.50,261.29 L74.96,260.27 L75.71,259.43 L76.80,258.70 L78.34,258.14 L80.30,257.76 L82.51,257.52 L84.80,257.36 L87.00,257.20 L89.21,257.01 L91.55,256.82 L93.85,256.72 L95.99,256.75 L97.80,257.00 L99.31,257.48 L100.63,258.15 L101.71,258.98 L102.51,259.94 L103.00,261.00 L103.07,262.20 L102.73,263.57 L102.17,265.03 L101.53,266.53 L101.00,268.00 L100.57,269.40 L100.12,270.78 L99.66,272.19 L99.19,273.68 L98.70,275.30 L98.21,277.16 L97.71,279.23 L97.19,281.34 L96.63,283.32 L96.00,285.00 L95.28,286.36 L94.48,287.53 L93.65,288.51 L92.81,289.33 L92.00,290.00 L91.24,290.50 L90.49,290.82 L89.75,290.99 L89.00,291.04 L88.20,291.00 L87.31,290.91 L86.33,290.74 L85.37,290.44 L84.49,289.98 L83.80,289.30 L83.41,288.36 L83.27,287.19 L83.19,285.86 L82.99,284.44 L82.50,283.00 L81.59,281.56 L80.39,280.07 L79.07,278.50 L77.81,276.82 L76.80,275.00 L76.00,272.90 L75.29,270.54 L74.72,268.13 L74.34,265.88 Z" fill="#fafafa" stroke="#4a4a4a" stroke-width="0.45"/>
<path d="M76.48,264.00 L76.54,262.69 L76.75,261.62 L77.15,260.73 L77.81,259.98 L78.77,259.34 L80.12,258.85 L81.85,258.52 L83.79,258.31 L85.80,258.16 L87.73,258.03 L89.67,257.86 L91.72,257.70 L93.75,257.60 L95.63,257.63 L97.22,257.85 L98.55,258.27 L99.70,258.86 L100.65,259.59 L101.36,260.43 L101.79,261.36 L101.84,262.42 L101.55,263.62 L101.05,264.91 L100.50,266.23 L100.03,267.51 L99.65,268.75 L99.26,269.96 L98.85,271.20 L98.44,272.51 L98.01,273.93 L97.57,275.56 L97.14,277.38 L96.68,279.24 L96.19,280.98 L95.64,282.45 L95.00,283.65 L94.30,284.67 L93.57,285.54 L92.83,286.25 L92.12,286.84 L91.45,287.28 L90.80,287.56 L90.15,287.71 L89.48,287.75 L88.78,287.72 L88.00,287.64 L87.14,287.49 L86.29,287.23 L85.52,286.82 L84.92,286.23 L84.58,285.40 L84.45,284.38 L84.38,283.21 L84.21,281.96 L83.78,280.69 L82.98,279.42 L81.92,278.11 L80.76,276.74 L79.66,275.26 L78.77,273.66 L78.06,271.82 L77.44,269.75 L76.94,267.63 L76.60,265.65 Z" fill="#ebebeb" stroke="#4a4a4a" stroke-width="0.45"/>
<path d="M78.32,264.00 L78.37,262.84 L78.55,261.88 L78.91,261.09 L79.50,260.43 L80.35,259.86 L81.55,259.42 L83.08,259.13 L84.81,258.94 L86.60,258.81 L88.31,258.69 L90.04,258.54 L91.86,258.40 L93.67,258.31 L95.33,258.34 L96.75,258.53 L97.93,258.91 L98.96,259.43 L99.80,260.08 L100.43,260.83 L100.81,261.66 L100.86,262.60 L100.60,263.66 L100.16,264.81 L99.67,265.98 L99.25,267.12 L98.91,268.22 L98.56,269.30 L98.20,270.40 L97.83,271.56 L97.45,272.83 L97.07,274.28 L96.68,275.90 L96.27,277.55 L95.83,279.09 L95.34,280.40 L94.78,281.47 L94.16,282.38 L93.51,283.15 L92.85,283.78 L92.22,284.31 L91.62,284.70 L91.04,284.95 L90.46,285.08 L89.87,285.12 L89.25,285.09 L88.55,285.01 L87.79,284.88 L87.04,284.65 L86.35,284.29 L85.81,283.76 L85.51,283.03 L85.40,282.11 L85.34,281.08 L85.18,279.97 L84.80,278.84 L84.09,277.71 L83.15,276.55 L82.12,275.32 L81.14,274.01 L80.35,272.59 L79.72,270.95 L79.17,269.11 L78.72,267.23 L78.42,265.47 Z" fill="#dbdbdb" stroke="#4a4a4a" stroke-width="0.45"/>
<path d="M80.01,264.00 L80.06,262.97 L80.22,262.13 L80.54,261.42 L81.05,260.84 L81.81,260.34 L82.87,259.95 L84.23,259.69 L85.75,259.53 L87.33,259.41 L88.85,259.30 L90.38,259.17 L92.00,259.04 L93.59,258.97 L95.07,258.99 L96.32,259.16 L97.36,259.50 L98.27,259.96 L99.02,260.53 L99.57,261.20 L99.91,261.93 L99.95,262.76 L99.72,263.70 L99.33,264.71 L98.90,265.75 L98.53,266.76 L98.23,267.73 L97.92,268.69 L97.60,269.66 L97.28,270.69 L96.94,271.81 L96.60,273.09 L96.26,274.52 L95.90,275.98 L95.51,277.35 L95.07,278.51 L94.58,279.45 L94.03,280.26 L93.45,280.94 L92.87,281.50 L92.31,281.96 L91.78,282.31 L91.27,282.53 L90.76,282.65 L90.23,282.68 L89.68,282.66 L89.07,282.59 L88.39,282.47 L87.73,282.27 L87.12,281.95 L86.64,281.48 L86.38,280.83 L86.28,280.02 L86.22,279.11 L86.09,278.12 L85.75,277.13 L85.12,276.13 L84.29,275.10 L83.37,274.02 L82.51,272.86 L81.81,271.60 L81.25,270.15 L80.76,268.52 L80.37,266.86 L80.11,265.30 Z" fill="#cccccc" stroke="#4a4a4a" stroke-width="0.45"/>
<path d="M81.62,264.00 L81.66,263.10 L81.80,262.36 L82.08,261.74 L82.53,261.23 L83.19,260.79 L84.13,260.45 L85.31,260.23 L86.65,260.08 L88.04,259.98 L89.37,259.88 L90.71,259.77 L92.12,259.66 L93.52,259.59 L94.81,259.61 L95.91,259.76 L96.82,260.06 L97.62,260.46 L98.27,260.96 L98.76,261.54 L99.05,262.18 L99.09,262.91 L98.89,263.74 L98.55,264.63 L98.17,265.53 L97.84,266.42 L97.58,267.27 L97.31,268.11 L97.03,268.96 L96.75,269.86 L96.45,270.84 L96.15,271.97 L95.85,273.22 L95.54,274.50 L95.20,275.70 L94.82,276.71 L94.38,277.54 L93.90,278.24 L93.39,278.84 L92.88,279.33 L92.39,279.74 L91.93,280.04 L91.48,280.23 L91.03,280.34 L90.58,280.37 L90.09,280.34 L89.56,280.29 L88.97,280.18 L88.38,280.01 L87.85,279.72 L87.43,279.31 L87.20,278.75 L87.11,278.04 L87.06,277.23 L86.94,276.37 L86.64,275.50 L86.09,274.63 L85.37,273.73 L84.57,272.78 L83.81,271.76 L83.19,270.66 L82.71,269.39 L82.28,267.96 L81.93,266.50 L81.70,265.14 Z" fill="#bcbcbc" stroke="#4a4a4a" stroke-width="0.45"/>
<path d="M83.17,264.00 L83.20,263.22 L83.33,262.58 L83.57,262.05 L83.96,261.61 L84.53,261.23 L85.34,260.93 L86.36,260.74 L87.52,260.61 L88.71,260.53 L89.86,260.44 L91.02,260.34 L92.24,260.25 L93.45,260.19 L94.56,260.21 L95.51,260.34 L96.30,260.59 L96.99,260.94 L97.55,261.38 L97.97,261.88 L98.23,262.43 L98.26,263.06 L98.09,263.77 L97.79,264.54 L97.46,265.32 L97.18,266.09 L96.96,266.82 L96.72,267.55 L96.48,268.28 L96.24,269.06 L95.98,269.91 L95.72,270.88 L95.46,271.97 L95.19,273.07 L94.90,274.10 L94.57,274.98 L94.19,275.69 L93.78,276.30 L93.34,276.82 L92.90,277.25 L92.48,277.60 L92.08,277.86 L91.69,278.02 L91.30,278.11 L90.91,278.14 L90.49,278.12 L90.02,278.07 L89.51,277.98 L89.01,277.83 L88.55,277.58 L88.19,277.23 L87.99,276.74 L87.91,276.13 L87.87,275.43 L87.77,274.69 L87.51,273.93 L87.03,273.18 L86.41,272.40 L85.72,271.58 L85.06,270.70 L84.53,269.75 L84.11,268.65 L83.74,267.42 L83.44,266.16 L83.24,264.98 Z" fill="#adadad" stroke="#4a4a4a" stroke-width="0.45"/>
<path d="M84.67,264.00 L84.70,263.34 L84.81,262.80 L85.01,262.35 L85.34,261.97 L85.82,261.65 L86.51,261.40 L87.38,261.24 L88.35,261.13 L89.37,261.06 L90.34,260.99 L91.32,260.90 L92.36,260.82 L93.38,260.77 L94.32,260.79 L95.13,260.90 L95.80,261.11 L96.38,261.41 L96.86,261.78 L97.21,262.20 L97.43,262.67 L97.46,263.20 L97.31,263.81 L97.06,264.46 L96.78,265.12 L96.54,265.77 L96.35,266.39 L96.15,267.00 L95.95,267.63 L95.74,268.29 L95.52,269.00 L95.31,269.83 L95.09,270.75 L94.86,271.68 L94.61,272.56 L94.33,273.30 L94.01,273.91 L93.66,274.42 L93.29,274.86 L92.91,275.22 L92.56,275.52 L92.22,275.74 L91.89,275.88 L91.56,275.95 L91.23,275.97 L90.87,275.96 L90.48,275.92 L90.05,275.84 L89.62,275.71 L89.23,275.51 L88.93,275.21 L88.75,274.79 L88.69,274.27 L88.65,273.68 L88.57,273.05 L88.35,272.42 L87.95,271.78 L87.41,271.12 L86.83,270.42 L86.27,269.68 L85.82,268.87 L85.47,267.94 L85.15,266.90 L84.90,265.83 L84.73,264.83 Z" fill="#9e9e9e" stroke="#4a4a4a" stroke-width="0.45"/>
<path d="M86.14,264.00 L86.16,263.46 L86.25,263.01 L86.42,262.64 L86.69,262.33 L87.09,262.07 L87.65,261.86 L88.37,261.72 L89.17,261.64 L90.01,261.58 L90.81,261.52 L91.62,261.45 L92.47,261.38 L93.31,261.34 L94.09,261.35 L94.75,261.45 L95.30,261.62 L95.78,261.87 L96.18,262.17 L96.47,262.52 L96.65,262.91 L96.67,263.34 L96.55,263.84 L96.35,264.38 L96.11,264.92 L95.92,265.46 L95.76,265.97 L95.60,266.48 L95.43,266.99 L95.26,267.53 L95.08,268.12 L94.90,268.80 L94.72,269.56 L94.53,270.33 L94.32,271.05 L94.09,271.66 L93.83,272.16 L93.54,272.59 L93.24,272.95 L92.93,273.24 L92.64,273.49 L92.36,273.67 L92.09,273.79 L91.82,273.85 L91.54,273.87 L91.25,273.85 L90.92,273.82 L90.57,273.76 L90.21,273.65 L89.90,273.48 L89.64,273.23 L89.50,272.89 L89.45,272.46 L89.42,271.98 L89.35,271.46 L89.17,270.93 L88.84,270.41 L88.40,269.86 L87.92,269.29 L87.46,268.68 L87.09,268.01 L86.80,267.25 L86.54,266.39 L86.33,265.51 L86.19,264.69 Z" fill="#8e8e8e" stroke="#4a4a4a" stroke-width="0.45"/>
<path d="M87.57,264.00 L87.59,263.57 L87.66,263.22 L87.79,262.92 L88.01,262.68 L88.32,262.47 L88.77,262.31 L89.34,262.20 L89.97,262.13 L90.63,262.08 L91.27,262.04 L91.91,261.98 L92.58,261.93 L93.25,261.90 L93.86,261.91 L94.39,261.98 L94.82,262.12 L95.20,262.31 L95.51,262.55 L95.74,262.83 L95.89,263.13 L95.90,263.48 L95.81,263.88 L95.65,264.30 L95.46,264.73 L95.31,265.15 L95.18,265.56 L95.05,265.96 L94.92,266.36 L94.79,266.79 L94.64,267.26 L94.50,267.80 L94.36,268.40 L94.21,269.00 L94.05,269.58 L93.87,270.06 L93.66,270.45 L93.43,270.79 L93.19,271.07 L92.94,271.31 L92.71,271.50 L92.49,271.65 L92.28,271.74 L92.06,271.79 L91.84,271.80 L91.61,271.79 L91.36,271.76 L91.08,271.72 L90.80,271.63 L90.54,271.50 L90.35,271.30 L90.23,271.03 L90.19,270.69 L90.17,270.31 L90.11,269.90 L89.97,269.48 L89.71,269.07 L89.36,268.64 L88.98,268.18 L88.62,267.70 L88.32,267.17 L88.09,266.57 L87.89,265.89 L87.72,265.19 L87.61,264.54 Z" fill="#7f7f7f" stroke="#4a4a4a" stroke-width="0.45"/>
<path d="M88.98,264.00 L89.00,263.68 L89.05,263.42 L89.15,263.20 L89.31,263.02 L89.54,262.87 L89.87,262.75 L90.29,262.67 L90.76,262.62 L91.25,262.58 L91.72,262.55 L92.19,262.51 L92.69,262.47 L93.18,262.44 L93.64,262.45 L94.03,262.50 L94.35,262.61 L94.63,262.75 L94.86,262.93 L95.03,263.13 L95.14,263.36 L95.15,263.62 L95.08,263.91 L94.96,264.22 L94.82,264.54 L94.71,264.85 L94.62,265.15 L94.52,265.45 L94.42,265.75 L94.32,266.07 L94.22,266.41 L94.11,266.81 L94.01,267.25 L93.90,267.71 L93.78,268.13 L93.64,268.49 L93.49,268.78 L93.32,269.03 L93.14,269.24 L92.96,269.41 L92.79,269.56 L92.62,269.66 L92.46,269.73 L92.31,269.77 L92.14,269.78 L91.97,269.77 L91.78,269.75 L91.58,269.71 L91.37,269.65 L91.18,269.55 L91.03,269.41 L90.95,269.21 L90.92,268.96 L90.90,268.67 L90.86,268.37 L90.76,268.06 L90.56,267.75 L90.31,267.43 L90.02,267.10 L89.75,266.74 L89.54,266.35 L89.37,265.90 L89.22,265.40 L89.09,264.88 L89.01,264.40 Z" fill="#6f6f6f" stroke="#4a4a4a" stroke-width="0.45"/>
<path d="M90.37,264.00 L90.38,263.79 L90.41,263.62 L90.47,263.48 L90.58,263.36 L90.73,263.26 L90.95,263.18 L91.22,263.13 L91.53,263.09 L91.85,263.07 L92.16,263.05 L92.47,263.02 L92.80,263.00 L93.12,262.98 L93.42,262.99 L93.67,263.02 L93.88,263.09 L94.07,263.18 L94.22,263.30 L94.33,263.43 L94.40,263.58 L94.41,263.75 L94.36,263.94 L94.28,264.14 L94.19,264.35 L94.12,264.56 L94.06,264.76 L94.00,264.95 L93.93,265.15 L93.87,265.36 L93.80,265.58 L93.73,265.84 L93.66,266.13 L93.59,266.43 L93.51,266.71 L93.42,266.94 L93.32,267.13 L93.21,267.29 L93.09,267.43 L92.97,267.55 L92.86,267.64 L92.75,267.71 L92.65,267.75 L92.55,267.78 L92.44,267.79 L92.33,267.78 L92.20,267.77 L92.07,267.74 L91.93,267.70 L91.81,267.64 L91.71,267.54 L91.66,267.41 L91.64,267.25 L91.63,267.06 L91.60,266.86 L91.53,266.66 L91.40,266.46 L91.23,266.25 L91.05,266.03 L90.87,265.79 L90.73,265.54 L90.62,265.25 L90.52,264.92 L90.44,264.58 L90.39,264.26 Z" fill="#606060" stroke="#4a4a4a" stroke-width="0.45"/>
<ellipse cx="92.5" cy="265" rx="4.2" ry="3.0" fill="#1a1a1a" stroke="none" stroke-width="1" transform="rotate(0 92.5 265)" opacity="1"/>
<ellipse cx="93.5" cy="265.3" rx="1.6" ry="1.2" fill="#fafafa" stroke="none" stroke-width="1" transform="rotate(0 93.5 265.3)" opacity="1"/>
<ellipse cx="64.4" cy="264" rx="2.6" ry="2.4" fill="none" stroke="#777" stroke-width="0.6" transform="rotate(0 64.4 264)" opacity="1"/>
<ellipse cx="65.6" cy="282" rx="3" ry="1.5" fill="none" stroke="#777" stroke-width="0.6" transform="rotate(0 65.6 282)" opacity="1"/>
<circle cx="63" cy="292.5" r="0.6" fill="#aaa"/>
<circle cx="62" cy="288" r="0.6" fill="#aaa"/>
<circle cx="66" cy="297" r="0.6" fill="#aaa"/>
<path d="M127.50,190.00 L128.19,188.67 L129.14,188.01 L130.28,187.77 L131.59,187.68 L133.00,187.50 L134.59,187.25 L136.40,187.12 L138.30,187.04 L140.21,186.95 L142.00,186.80 L143.63,186.57 L145.18,186.31 L146.70,186.03 L148.29,185.75 L150.00,185.50 L151.90,185.26 L153.95,185.01 L156.05,184.78 L158.10,184.60 L160.00,184.50 L161.81,184.45 L163.58,184.42 L165.26,184.48 L166.75,184.65 L168.00,185.00 L168.97,185.53 L169.70,186.20 L170.26,187.02 L170.67,187.95 L171.00,189.00 L171.24,190.21 L171.36,191.58 L171.36,193.06 L171.24,194.55 L171.00,196.00 L170.58,197.40 L169.97,198.80 L169.27,200.20 L168.58,201.60 L168.00,203.00 L167.60,204.42 L167.32,205.85 L167.04,207.27 L166.64,208.66 L166.00,210.00 L165.09,211.32 L163.98,212.64 L162.74,213.90 L161.39,215.04 L160.00,216.00 L158.51,216.79 L156.90,217.44 L155.22,217.96 L153.57,218.31 L152.00,218.50 L150.54,218.48 L149.13,218.26 L147.75,217.90 L146.38,217.46 L145.00,217.00 L143.60,216.48 L142.20,215.86 L140.80,215.20 L139.40,214.56 L138.00,214.00 L136.54,213.62 L135.03,213.37 L133.55,213.11 L132.18,212.70 L131.00,212.00 L130.02,211.05 L129.18,209.94 L128.48,208.62 L127.92,206.99 L127.50,205.00 L127.19,202.31 L126.98,198.98 L126.94,195.48 L127.09,192.33 Z" fill="#e8e8e8" stroke="#555" stroke-width="0.5" opacity="1"/>
<path d="M129.00,191.00 L129.72,189.94 L130.80,189.41 L132.12,189.21 L133.56,189.14 L135.00,189.00 L136.49,188.80 L138.10,188.69 L139.78,188.63 L141.43,188.58 L143.00,188.50 L144.45,188.38 L145.82,188.23 L147.18,188.09 L148.55,188.00 L150.00,188.00 L151.55,188.06 L153.18,188.15 L154.82,188.31 L156.45,188.58 L158.00,189.00 L159.56,189.56 L161.16,190.24 L162.68,191.04 L164.00,191.96 L165.00,193.00 L165.65,194.21 L166.02,195.58 L166.18,197.06 L166.15,198.55 L166.00,200.00 L165.69,201.42 L165.18,202.85 L164.54,204.27 L163.79,205.66 L163.00,207.00 L162.18,208.32 L161.29,209.64 L160.31,210.90 L159.22,212.04 L158.00,213.00 L156.59,213.80 L155.02,214.49 L153.34,215.03 L151.65,215.38 L150.00,215.50 L148.38,215.34 L146.75,214.93 L145.13,214.35 L143.54,213.68 L142.00,213.00 L140.50,212.33 L139.03,211.60 L137.61,210.82 L136.26,209.95 L135.00,209.00 L133.81,208.02 L132.66,207.03 L131.62,205.93 L130.71,204.62 L130.00,203.00 L129.43,200.82 L128.98,198.15 L128.70,195.37 L128.69,192.86 Z" fill="#d8d8d8" stroke="#3a3a3a" stroke-width="0.5"/>
<path d="M131.62,192.00 L132.25,191.07 L133.20,190.61 L134.36,190.44 L135.62,190.38 L136.88,190.25 L138.18,190.08 L139.59,189.98 L141.05,189.92 L142.50,189.88 L143.88,189.81 L145.14,189.70 L146.35,189.57 L147.53,189.46 L148.73,189.38 L150.00,189.38 L151.36,189.42 L152.78,189.50 L154.22,189.65 L155.64,189.89 L157.00,190.25 L158.37,190.74 L159.76,191.34 L161.09,192.03 L162.25,192.84 L163.12,193.75 L163.69,194.81 L164.02,196.01 L164.15,197.30 L164.13,198.61 L164.00,199.88 L163.73,201.11 L163.29,202.37 L162.72,203.61 L162.07,204.83 L161.38,206.00 L160.65,207.16 L159.88,208.31 L159.02,209.41 L158.07,210.41 L157.00,211.25 L155.77,211.95 L154.39,212.56 L152.93,213.02 L151.44,213.33 L150.00,213.44 L148.59,213.30 L147.16,212.94 L145.74,212.43 L144.34,211.84 L143.00,211.25 L141.69,210.66 L140.40,210.03 L139.16,209.34 L137.97,208.58 L136.88,207.75 L135.83,206.90 L134.83,206.03 L133.91,205.06 L133.12,203.91 L132.50,202.50 L132.00,200.60 L131.60,198.26 L131.37,195.82 L131.35,193.62 Z" fill="#cbcbcb" stroke="#3a3a3a" stroke-width="0.5"/>
<path d="M134.25,193.00 L134.79,192.20 L135.60,191.81 L136.59,191.66 L137.67,191.61 L138.75,191.50 L139.87,191.35 L141.08,191.27 L142.33,191.22 L143.57,191.18 L144.75,191.12 L145.84,191.03 L146.87,190.92 L147.88,190.82 L148.91,190.75 L150.00,190.75 L151.16,190.79 L152.38,190.86 L153.62,190.98 L154.84,191.19 L156.00,191.50 L157.17,191.92 L158.37,192.43 L159.51,193.03 L160.50,193.72 L161.25,194.50 L161.74,195.41 L162.02,196.44 L162.13,197.54 L162.11,198.66 L162.00,199.75 L161.77,200.81 L161.39,201.89 L160.90,202.95 L160.34,204.00 L159.75,205.00 L159.13,205.99 L158.47,206.98 L157.73,207.93 L156.92,208.78 L156.00,209.50 L154.94,210.10 L153.76,210.62 L152.51,211.02 L151.24,211.28 L150.00,211.38 L148.79,211.26 L147.56,210.95 L146.35,210.51 L145.15,210.01 L144.00,209.50 L142.88,209.00 L141.77,208.45 L140.71,207.86 L139.69,207.21 L138.75,206.50 L137.86,205.77 L137.00,205.02 L136.21,204.20 L135.53,203.21 L135.00,202.00 L134.57,200.37 L134.23,198.36 L134.03,196.28 L134.02,194.39 Z" fill="#bdbdbd" stroke="#3a3a3a" stroke-width="0.5"/>
<path d="M136.88,194.00 L137.32,193.34 L138.00,193.00 L138.82,192.88 L139.72,192.84 L140.62,192.75 L141.56,192.63 L142.56,192.56 L143.61,192.52 L144.64,192.49 L145.62,192.44 L146.53,192.36 L147.39,192.27 L148.24,192.18 L149.09,192.13 L150.00,192.12 L150.97,192.16 L151.99,192.22 L153.01,192.32 L154.03,192.49 L155.00,192.75 L155.97,193.10 L156.97,193.53 L157.93,194.03 L158.75,194.60 L159.38,195.25 L159.78,196.00 L160.01,196.86 L160.11,197.78 L160.09,198.72 L160.00,199.62 L159.81,200.51 L159.49,201.41 L159.09,202.29 L158.62,203.16 L158.12,204.00 L157.61,204.83 L157.05,205.65 L156.44,206.44 L155.77,207.15 L155.00,207.75 L154.12,208.25 L153.14,208.68 L152.09,209.02 L151.03,209.24 L150.00,209.31 L148.99,209.22 L147.97,208.96 L146.95,208.59 L145.96,208.17 L145.00,207.75 L144.06,207.33 L143.15,206.88 L142.25,206.38 L141.41,205.85 L140.62,205.25 L139.88,204.64 L139.16,204.02 L138.51,203.33 L137.94,202.51 L137.50,201.50 L137.15,200.14 L136.86,198.47 L136.69,196.73 L136.68,195.16 Z" fill="#b0b0b0" stroke="#3a3a3a" stroke-width="0.5"/>
<path d="M139.50,195.00 L139.86,194.47 L140.40,194.20 L141.06,194.11 L141.78,194.07 L142.50,194.00 L143.24,193.90 L144.05,193.85 L144.89,193.81 L145.72,193.79 L146.50,193.75 L147.22,193.69 L147.91,193.61 L148.59,193.55 L149.28,193.50 L150.00,193.50 L150.78,193.53 L151.59,193.57 L152.41,193.66 L153.22,193.79 L154.00,194.00 L154.78,194.28 L155.58,194.62 L156.34,195.02 L157.00,195.48 L157.50,196.00 L157.82,196.60 L158.01,197.29 L158.09,198.03 L158.08,198.78 L158.00,199.50 L157.84,200.21 L157.59,200.92 L157.27,201.64 L156.90,202.33 L156.50,203.00 L156.09,203.66 L155.64,204.32 L155.16,204.95 L154.61,205.52 L154.00,206.00 L153.30,206.40 L152.51,206.75 L151.67,207.01 L150.82,207.19 L150.00,207.25 L149.19,207.17 L148.38,206.97 L147.56,206.67 L146.77,206.34 L146.00,206.00 L145.25,205.66 L144.52,205.30 L143.80,204.91 L143.13,204.48 L142.50,204.00 L141.90,203.51 L141.33,203.02 L140.81,202.46 L140.36,201.81 L140.00,201.00 L139.72,199.91 L139.49,198.58 L139.35,197.18 L139.34,195.93 Z" fill="#a3a3a3" stroke="#3a3a3a" stroke-width="0.5"/>
<path d="M142.12,196.00 L142.40,195.60 L142.80,195.40 L143.30,195.33 L143.84,195.30 L144.38,195.25 L144.93,195.18 L145.54,195.13 L146.17,195.11 L146.79,195.09 L147.38,195.06 L147.92,195.02 L148.43,194.96 L148.94,194.91 L149.46,194.88 L150.00,194.88 L150.58,194.90 L151.19,194.93 L151.81,194.99 L152.42,195.09 L153.00,195.25 L153.59,195.46 L154.19,195.72 L154.75,196.01 L155.25,196.36 L155.62,196.75 L155.87,197.20 L156.01,197.72 L156.07,198.27 L156.06,198.83 L156.00,199.38 L155.88,199.91 L155.69,200.44 L155.45,200.98 L155.17,201.50 L154.88,202.00 L154.57,202.50 L154.23,202.99 L153.87,203.46 L153.46,203.89 L153.00,204.25 L152.47,204.55 L151.88,204.81 L151.25,205.01 L150.62,205.14 L150.00,205.19 L149.39,205.13 L148.78,204.97 L148.17,204.76 L147.58,204.50 L147.00,204.25 L146.44,204.00 L145.89,203.73 L145.35,203.43 L144.85,203.11 L144.38,202.75 L143.93,202.38 L143.50,202.01 L143.11,201.60 L142.77,201.11 L142.50,200.50 L142.29,199.68 L142.12,198.68 L142.01,197.64 L142.01,196.70 Z" fill="#959595" stroke="#3a3a3a" stroke-width="0.5"/>
<path d="M144.75,197.00 L144.93,196.73 L145.20,196.60 L145.53,196.55 L145.89,196.54 L146.25,196.50 L146.62,196.45 L147.03,196.42 L147.44,196.41 L147.86,196.39 L148.25,196.38 L148.61,196.34 L148.96,196.31 L149.29,196.27 L149.64,196.25 L150.00,196.25 L150.39,196.26 L150.79,196.29 L151.21,196.33 L151.61,196.40 L152.00,196.50 L152.39,196.64 L152.79,196.81 L153.17,197.01 L153.50,197.24 L153.75,197.50 L153.91,197.80 L154.01,198.15 L154.04,198.51 L154.04,198.89 L154.00,199.25 L153.92,199.60 L153.80,199.96 L153.63,200.32 L153.45,200.67 L153.25,201.00 L153.04,201.33 L152.82,201.66 L152.58,201.97 L152.31,202.26 L152.00,202.50 L151.65,202.70 L151.25,202.87 L150.84,203.01 L150.41,203.09 L150.00,203.12 L149.60,203.09 L149.19,202.98 L148.78,202.84 L148.38,202.67 L148.00,202.50 L147.63,202.33 L147.26,202.15 L146.90,201.95 L146.56,201.74 L146.25,201.50 L145.95,201.26 L145.67,201.01 L145.40,200.73 L145.18,200.40 L145.00,200.00 L144.86,199.46 L144.74,198.79 L144.68,198.09 L144.67,197.46 Z" fill="#888888" stroke="#3a3a3a" stroke-width="0.5"/>
<path d="M150.30,187.50 L151.33,186.98 L152.80,186.61 L154.52,186.35 L156.31,186.16 L158.00,186.00 L159.65,185.86 L161.39,185.75 L163.11,185.71 L164.68,185.78 L166.00,186.00 L167.04,186.36 L167.89,186.84 L168.57,187.44 L169.10,188.16 L169.50,189.00 L169.78,190.06 L169.92,191.35 L169.92,192.71 L169.78,193.98 L169.50,195.00 L169.10,195.77 L168.57,196.40 L167.89,196.88 L167.04,197.25 L166.00,197.50 L164.66,197.62 L163.03,197.59 L161.27,197.45 L159.54,197.24 L158.00,197.00 L156.60,196.71 L155.24,196.36 L153.98,195.94 L152.88,195.49 L152.00,195.00 L151.39,194.49 L151.01,193.94 L150.79,193.36 L150.64,192.71 L150.50,192.00 L150.25,191.15 L149.95,190.16 L149.75,189.16 L149.81,188.23 Z" fill="#8a8a8a" stroke="#555" stroke-width="0.5" opacity="1"/>
<path d="M150.3,187 C156,185.6 162,185.4 166.5,186 C169,187 170,190 170,194" fill="none" stroke="#000" stroke-width="2"/>
<path d="M153,190 C158,189 163,189 167,191 M153,193 C158,192.5 163,193 166,194.5" stroke="#555" stroke-width="0.6" fill="none"/>
<path d="M135,220.5 C135,218 139,218 139,220.5 C139,223 135,223 135,220.5 M139.2,220.5 C139.2,218 143.2,218 143.2,220.5 C143.2,223 139.2,223 139.2,220.5" fill="none" stroke="#888" stroke-width="0.6"/>
<rect x="127" y="199" width="2" height="6" fill="#444"/>
<circle cx="183.5" cy="189" r="0.8" fill="#888"/>
<path d="M127.50,279.70 L135.50,276.20 L145.00,272.00 L155.50,266.60 L162.50,262.20 L166.90,260.50 L171.20,263.00 L171.50,271.80 L167.80,284.00 L164.30,291.90 L157.00,295.00 L152.00,298.50 L148.00,303.00 L145.00,306.80 L136.00,306.90 L127.50,306.90 Z" fill="#e2e2e2" stroke="#555" stroke-width="0.5" opacity="1"/>
<path d="M129.00,282.00 L130.07,280.62 L131.58,279.73 L133.34,279.13 L135.21,278.62 L137.00,278.00 L138.74,277.29 L140.53,276.64 L142.35,275.98 L144.18,275.29 L146.00,274.50 L147.83,273.59 L149.70,272.58 L151.54,271.54 L153.33,270.49 L155.00,269.50 L156.56,268.52 L158.04,267.52 L159.44,266.56 L160.76,265.70 L162.00,265.00 L163.17,264.44 L164.26,263.99 L165.28,263.67 L166.19,263.50 L167.00,263.50 L167.70,263.67 L168.30,264.00 L168.80,264.48 L169.20,265.15 L169.50,266.00 L169.71,267.06 L169.82,268.33 L169.84,269.77 L169.73,271.34 L169.50,273.00 L169.11,274.86 L168.56,276.93 L167.92,279.07 L167.21,281.14 L166.50,283.00 L165.90,284.64 L165.38,286.16 L164.76,287.56 L163.86,288.84 L162.50,290.00 L160.50,291.00 L157.99,291.84 L155.23,292.58 L152.48,293.28 L150.00,294.00 L147.82,294.74 L145.77,295.46 L143.81,296.16 L141.90,296.84 L140.00,297.50 L138.02,298.27 L135.99,299.14 L134.05,299.94 L132.34,300.45 L131.00,300.50 L130.12,300.06 L129.60,299.27 L129.32,298.15 L129.16,296.72 L129.00,295.00 L128.74,292.74 L128.47,289.91 L128.33,286.91 L128.46,284.14 Z" fill="#d4d4d4" stroke="#3a3a3a" stroke-width="0.5"/>
<path d="M131.25,282.32 L132.21,281.09 L133.55,280.29 L135.13,279.76 L136.79,279.31 L138.39,278.75 L139.94,278.12 L141.54,277.53 L143.17,276.95 L144.81,276.33 L146.43,275.62 L148.06,274.81 L149.73,273.91 L151.38,272.98 L152.97,272.05 L154.46,271.16 L155.86,270.29 L157.18,269.39 L158.43,268.54 L159.61,267.77 L160.71,267.14 L161.76,266.65 L162.74,266.24 L163.64,265.95 L164.46,265.80 L165.18,265.80 L165.80,265.96 L166.34,266.25 L166.79,266.68 L167.14,267.27 L167.41,268.04 L167.60,268.99 L167.70,270.12 L167.71,271.40 L167.62,272.80 L167.41,274.29 L167.06,275.94 L166.57,277.79 L166.00,279.71 L165.37,281.56 L164.73,283.21 L164.20,284.68 L163.73,286.04 L163.18,287.29 L162.38,288.43 L161.16,289.46 L159.38,290.36 L157.14,291.11 L154.67,291.77 L152.21,292.39 L150.00,293.04 L148.06,293.70 L146.22,294.34 L144.47,294.96 L142.76,295.57 L141.07,296.16 L139.31,296.85 L137.49,297.63 L135.76,298.34 L134.23,298.80 L133.04,298.84 L132.25,298.45 L131.79,297.74 L131.54,296.74 L131.39,295.46 L131.25,293.93 L131.02,291.91 L130.78,289.38 L130.65,286.71 L130.76,284.24 Z" fill="#c7c7c7" stroke="#3a3a3a" stroke-width="0.5"/>
<path d="M133.50,282.64 L134.34,281.56 L135.52,280.86 L136.91,280.39 L138.38,279.99 L139.79,279.50 L141.15,278.94 L142.56,278.43 L143.99,277.92 L145.43,277.37 L146.86,276.75 L148.30,276.03 L149.76,275.24 L151.21,274.42 L152.61,273.60 L153.93,272.82 L155.15,272.05 L156.32,271.27 L157.42,270.51 L158.45,269.84 L159.43,269.29 L160.35,268.85 L161.21,268.49 L162.00,268.24 L162.72,268.10 L163.36,268.11 L163.91,268.24 L164.38,268.50 L164.77,268.88 L165.09,269.40 L165.32,270.07 L165.48,270.91 L165.58,271.90 L165.59,273.03 L165.50,274.26 L165.32,275.57 L165.01,277.03 L164.59,278.66 L164.08,280.34 L163.52,281.97 L162.96,283.43 L162.49,284.72 L162.08,285.91 L161.60,287.01 L160.89,288.02 L159.82,288.93 L158.25,289.71 L156.28,290.37 L154.11,290.96 L151.95,291.51 L150.00,292.07 L148.29,292.65 L146.68,293.22 L145.13,293.77 L143.63,294.30 L142.14,294.82 L140.59,295.42 L138.99,296.11 L137.47,296.74 L136.12,297.14 L135.07,297.18 L134.38,296.84 L133.97,296.21 L133.75,295.33 L133.63,294.21 L133.50,292.86 L133.30,291.08 L133.09,288.86 L132.97,286.50 L133.07,284.33 Z" fill="#bababa" stroke="#3a3a3a" stroke-width="0.5"/>
<path d="M135.75,282.96 L136.48,282.03 L137.50,281.42 L138.70,281.02 L139.96,280.67 L141.18,280.25 L142.36,279.77 L143.57,279.32 L144.81,278.88 L146.05,278.41 L147.29,277.88 L148.53,277.26 L149.79,276.57 L151.05,275.86 L152.26,275.16 L153.39,274.48 L154.45,273.82 L155.46,273.14 L156.41,272.49 L157.30,271.90 L158.14,271.43 L158.94,271.05 L159.68,270.74 L160.37,270.52 L160.99,270.41 L161.54,270.41 L162.01,270.53 L162.42,270.75 L162.76,271.08 L163.03,271.53 L163.23,272.11 L163.37,272.83 L163.45,273.69 L163.46,274.66 L163.39,275.73 L163.23,276.86 L162.97,278.12 L162.60,279.52 L162.16,280.98 L161.68,282.38 L161.20,283.64 L160.79,284.76 L160.44,285.79 L160.02,286.74 L159.41,287.61 L158.48,288.39 L157.13,289.07 L155.42,289.64 L153.55,290.14 L151.68,290.62 L150.00,291.11 L148.52,291.61 L147.13,292.10 L145.80,292.57 L144.50,293.03 L143.21,293.48 L141.87,294.00 L140.49,294.60 L139.18,295.14 L138.01,295.49 L137.11,295.52 L136.51,295.22 L136.16,294.68 L135.97,293.92 L135.86,292.95 L135.75,291.79 L135.58,290.25 L135.39,288.33 L135.29,286.30 L135.38,284.42 Z" fill="#adadad" stroke="#3a3a3a" stroke-width="0.5"/>
<path d="M138.00,283.29 L138.61,282.49 L139.47,281.99 L140.48,281.65 L141.55,281.36 L142.57,281.00 L143.56,280.60 L144.59,280.22 L145.63,279.85 L146.68,279.45 L147.71,279.00 L148.76,278.48 L149.83,277.91 L150.88,277.31 L151.90,276.71 L152.86,276.14 L153.75,275.58 L154.59,275.01 L155.39,274.46 L156.15,273.97 L156.86,273.57 L157.52,273.25 L158.15,273.00 L158.73,272.81 L159.25,272.71 L159.71,272.71 L160.11,272.81 L160.46,273.00 L160.74,273.28 L160.97,273.66 L161.14,274.14 L161.26,274.75 L161.33,275.48 L161.33,276.30 L161.28,277.19 L161.14,278.14 L160.92,279.20 L160.61,280.39 L160.24,281.61 L159.84,282.80 L159.43,283.86 L159.09,284.79 L158.79,285.66 L158.43,286.46 L157.92,287.19 L157.14,287.86 L156.00,288.43 L154.57,288.91 L152.99,289.33 L151.41,289.73 L150.00,290.14 L148.76,290.57 L147.58,290.98 L146.46,291.38 L145.37,291.77 L144.29,292.14 L143.16,292.58 L142.00,293.08 L140.88,293.53 L139.91,293.83 L139.14,293.86 L138.64,293.61 L138.34,293.16 L138.18,292.51 L138.09,291.69 L138.00,290.71 L137.85,289.42 L137.70,287.80 L137.62,286.09 L137.69,284.51 Z" fill="#a1a1a1" stroke="#3a3a3a" stroke-width="0.5"/>
<path d="M140.25,283.61 L140.75,282.96 L141.45,282.55 L142.27,282.28 L143.13,282.04 L143.96,281.75 L144.77,281.42 L145.60,281.12 L146.45,280.81 L147.30,280.49 L148.14,280.12 L148.99,279.70 L149.86,279.24 L150.72,278.75 L151.55,278.26 L152.32,277.80 L153.05,277.35 L153.73,276.88 L154.38,276.44 L155.00,276.04 L155.57,275.71 L156.11,275.46 L156.62,275.25 L157.09,275.10 L157.52,275.02 L157.89,275.02 L158.22,275.10 L158.50,275.25 L158.73,275.47 L158.91,275.78 L159.05,276.18 L159.15,276.67 L159.20,277.26 L159.21,277.93 L159.16,278.66 L159.05,279.43 L158.87,280.29 L158.62,281.25 L158.32,282.25 L157.99,283.21 L157.66,284.07 L157.38,284.83 L157.14,285.54 L156.85,286.19 L156.44,286.78 L155.80,287.32 L154.88,287.79 L153.71,288.18 L152.43,288.52 L151.15,288.84 L150.00,289.18 L148.99,289.52 L148.04,289.86 L147.13,290.18 L146.24,290.50 L145.36,290.80 L144.44,291.16 L143.50,291.57 L142.59,291.93 L141.80,292.17 L141.18,292.20 L140.77,291.99 L140.53,291.63 L140.40,291.10 L140.32,290.44 L140.25,289.64 L140.13,288.59 L140.00,287.28 L139.94,285.89 L140.00,284.60 Z" fill="#949494" stroke="#3a3a3a" stroke-width="0.5"/>
<path d="M142.50,283.93 L142.88,283.43 L143.42,283.12 L144.05,282.90 L144.72,282.72 L145.36,282.50 L145.98,282.25 L146.62,282.01 L147.27,281.78 L147.92,281.53 L148.57,281.25 L149.23,280.92 L149.89,280.57 L150.55,280.19 L151.19,279.82 L151.79,279.46 L152.34,279.11 L152.87,278.76 L153.37,278.41 L153.84,278.11 L154.29,277.86 L154.70,277.66 L155.09,277.50 L155.46,277.38 L155.78,277.32 L156.07,277.32 L156.32,277.38 L156.54,277.50 L156.71,277.67 L156.86,277.91 L156.96,278.21 L157.04,278.59 L157.08,279.05 L157.08,279.56 L157.05,280.12 L156.96,280.71 L156.82,281.38 L156.63,282.12 L156.40,282.88 L156.15,283.62 L155.89,284.29 L155.68,284.87 L155.49,285.41 L155.27,285.91 L154.95,286.37 L154.46,286.79 L153.75,287.14 L152.85,287.44 L151.87,287.71 L150.88,287.96 L150.00,288.21 L149.22,288.48 L148.49,288.74 L147.79,288.99 L147.11,289.23 L146.43,289.46 L145.72,289.74 L145.00,290.05 L144.30,290.33 L143.69,290.52 L143.21,290.54 L142.90,290.38 L142.71,290.10 L142.61,289.70 L142.56,289.18 L142.50,288.57 L142.41,287.76 L142.31,286.75 L142.26,285.68 L142.31,284.69 Z" fill="#878787" stroke="#3a3a3a" stroke-width="0.5"/>
<path d="M144.75,284.25 L145.02,283.90 L145.39,283.68 L145.84,283.53 L146.30,283.41 L146.75,283.25 L147.18,283.07 L147.63,282.91 L148.09,282.75 L148.55,282.57 L149.00,282.38 L149.46,282.15 L149.92,281.90 L150.39,281.63 L150.83,281.37 L151.25,281.12 L151.64,280.88 L152.01,280.63 L152.36,280.39 L152.69,280.18 L153.00,280.00 L153.29,279.86 L153.57,279.75 L153.82,279.67 L154.05,279.62 L154.25,279.62 L154.43,279.67 L154.57,279.75 L154.70,279.87 L154.80,280.04 L154.88,280.25 L154.93,280.52 L154.96,280.83 L154.96,281.19 L154.93,281.58 L154.88,282.00 L154.78,282.46 L154.64,282.98 L154.48,283.52 L154.30,284.04 L154.12,284.50 L153.97,284.91 L153.84,285.29 L153.69,285.64 L153.47,285.96 L153.12,286.25 L152.63,286.50 L152.00,286.71 L151.31,286.89 L150.62,287.07 L150.00,287.25 L149.46,287.44 L148.94,287.62 L148.45,287.79 L147.97,287.96 L147.50,288.12 L147.01,288.32 L146.50,288.54 L146.01,288.73 L145.58,288.86 L145.25,288.88 L145.03,288.77 L144.90,288.57 L144.83,288.29 L144.79,287.93 L144.75,287.50 L144.69,286.93 L144.62,286.23 L144.58,285.48 L144.61,284.79 Z" fill="#7a7a7a" stroke="#3a3a3a" stroke-width="0.5"/>
<path d="M133.00,285.00 L133.84,284.09 L135.08,283.28 L136.60,282.56 L138.28,281.97 L140.00,281.50 L141.84,281.23 L143.88,281.16 L146.00,281.16 L148.08,281.15 L150.00,281.00 L151.74,280.69 L153.37,280.28 L154.93,279.84 L156.46,279.39 L158.00,279.00 L159.61,278.57 L161.28,278.08 L162.88,277.64 L164.33,277.41 L165.50,277.50 L166.41,277.98 L167.12,278.77 L167.64,279.77 L167.93,280.88 L168.00,282.00 L167.85,283.24 L167.48,284.67 L166.90,286.13 L166.07,287.46 L165.00,288.50 L163.57,289.20 L161.78,289.65 L159.82,289.95 L157.83,290.20 L156.00,290.50 L154.34,290.84 L152.73,291.15 L151.15,291.45 L149.58,291.73 L148.00,292.00 L146.37,292.31 L144.70,292.66 L143.06,292.98 L141.47,293.18 L140.00,293.20 L138.59,293.04 L137.22,292.75 L135.94,292.32 L134.85,291.74 L134.00,291.00 L133.35,290.00 L132.86,288.75 L132.58,287.40 L132.61,286.10 Z" fill="#858585" stroke="#1e1e1e" stroke-width="1.15" opacity="1"/>
<ellipse cx="145" cy="287" rx="3.8" ry="2.7" fill="#f2f2f2" stroke="none" stroke-width="1" transform="rotate(0 145 287)" opacity="1"/>
<ellipse cx="160" cy="284.8" rx="3.2" ry="2.3" fill="#eeeeee" stroke="none" stroke-width="1" transform="rotate(0 160 284.8)" opacity="1"/>
<path d="M127.1,282.3 C129,284 129.6,288 129.3,290 C129,292 128.3,292.8 127.1,292.8 Z" fill="#000"/>
<rect x="48.5" y="15.3" width="59.599999999999994" height="59.3" fill="none" stroke="#a0a0a0" stroke-width="0.8"/>
<line x1="73.5" y1="15.3" x2="73.5" y2="74.6" stroke="#a8a8a8" stroke-width="0.8"/>
<line x1="48.5" y1="36" x2="108.1" y2="36" stroke="#a8a8a8" stroke-width="0.8"/>
<text transform="translate(50.1,21.3) scale(0.88,1)" font-size="8.5" text-anchor="start" font-weight="normal" fill="#000" stroke="#000" stroke-width="0.3" >0</text>
<text transform="translate(106.6,21.3) scale(0.88,1)" font-size="8.5" text-anchor="end" font-weight="normal" fill="#000" stroke="#000" stroke-width="0.3" >0</text>
<text transform="translate(50.1,72.3) scale(0.88,1)" font-size="8.5" text-anchor="start" font-weight="normal" fill="#000" stroke="#000" stroke-width="0.3" >55</text>
<text transform="translate(106.6,72.3) scale(0.88,1)" font-size="8.5" text-anchor="end" font-weight="normal" fill="#000" stroke="#000" stroke-width="0.3" >45</text>
<rect x="48.5" y="88.8" width="59.599999999999994" height="59.3" fill="none" stroke="#a0a0a0" stroke-width="0.8"/>
<line x1="73.5" y1="88.8" x2="73.5" y2="148.1" stroke="#a8a8a8" stroke-width="0.8"/>
<line x1="48.5" y1="109" x2="108.1" y2="109" stroke="#a8a8a8" stroke-width="0.8"/>
<text transform="translate(50.1,94.8) scale(0.88,1)" font-size="8.5" text-anchor="start" font-weight="normal" fill="#000" stroke="#000" stroke-width="0.3" >38</text>
<text transform="translate(106.6,94.8) scale(0.88,1)" font-size="8.5" text-anchor="end" font-weight="normal" fill="#000" stroke="#000" stroke-width="0.3" >55</text>
<text transform="translate(50.1,145.79999999999998) scale(0.88,1)" font-size="8.5" text-anchor="start" font-weight="normal" fill="#000" stroke="#000" stroke-width="0.3" >4</text>
<text transform="translate(106.6,145.79999999999998) scale(0.88,1)" font-size="8.5" text-anchor="end" font-weight="normal" fill="#000" stroke="#000" stroke-width="0.3" >3</text>
<rect x="126.8" y="15.3" width="59.60000000000001" height="59.3" fill="none" stroke="#a0a0a0" stroke-width="0.8"/>
<line x1="151.2" y1="15.3" x2="151.2" y2="74.6" stroke="#a8a8a8" stroke-width="0.8"/>
<line x1="126.8" y1="40.2" x2="186.4" y2="40.2" stroke="#a8a8a8" stroke-width="0.8"/>
<text transform="translate(128.4,21.3) scale(0.88,1)" font-size="8.5" text-anchor="start" font-weight="normal" fill="#000" stroke="#000" stroke-width="0.3" >8</text>
<text transform="translate(184.9,21.3) scale(0.88,1)" font-size="8.5" text-anchor="end" font-weight="normal" fill="#000" stroke="#000" stroke-width="0.3" >7</text>
<text transform="translate(128.4,72.3) scale(0.88,1)" font-size="8.5" text-anchor="start" font-weight="normal" fill="#000" stroke="#000" stroke-width="0.3" >77</text>
<text transform="translate(184.9,72.3) scale(0.88,1)" font-size="8.5" text-anchor="end" font-weight="normal" fill="#000" stroke="#000" stroke-width="0.3" >7</text>
<rect x="126.8" y="88.9" width="59.60000000000001" height="59.19999999999999" fill="none" stroke="#a0a0a0" stroke-width="0.8"/>
<line x1="151.2" y1="88.9" x2="151.2" y2="148.1" stroke="#a8a8a8" stroke-width="0.8"/>
<line x1="126.8" y1="114.2" x2="186.4" y2="114.2" stroke="#a8a8a8" stroke-width="0.8"/>
<text transform="translate(128.4,94.9) scale(0.88,1)" font-size="8.5" text-anchor="start" font-weight="normal" fill="#000" stroke="#000" stroke-width="0.3" >1</text>
<text transform="translate(184.9,94.9) scale(0.88,1)" font-size="8.5" text-anchor="end" font-weight="normal" fill="#000" stroke="#000" stroke-width="0.3" >0</text>
<text transform="translate(128.4,145.79999999999998) scale(0.88,1)" font-size="8.5" text-anchor="start" font-weight="normal" fill="#000" stroke="#000" stroke-width="0.3" >95</text>
<text transform="translate(184.9,145.79999999999998) scale(0.88,1)" font-size="8.5" text-anchor="end" font-weight="normal" fill="#000" stroke="#000" stroke-width="0.3" >4</text>
<rect x="48.7" y="175.4" width="59.39999999999999" height="59.099999999999994" fill="none" stroke="#a0a0a0" stroke-width="0.8"/>
<line x1="72.5" y1="175.4" x2="72.5" y2="234.5" stroke="#a8a8a8" stroke-width="0.8"/>
<line x1="48.7" y1="204.2" x2="108.1" y2="204.2" stroke="#a8a8a8" stroke-width="0.8"/>
<text transform="translate(50.300000000000004,181.4) scale(0.88,1)" font-size="8.5" text-anchor="start" font-weight="normal" fill="#000" stroke="#000" stroke-width="0.3" >0</text>
<text transform="translate(106.6,181.4) scale(0.88,1)" font-size="8.5" text-anchor="end" font-weight="normal" fill="#000" stroke="#000" stroke-width="0.3" >1</text>
<text transform="translate(50.300000000000004,232.2) scale(0.88,1)" font-size="8.5" text-anchor="start" font-weight="normal" fill="#000" stroke="#000" stroke-width="0.3" >9</text>
<text transform="translate(106.6,232.2) scale(0.88,1)" font-size="8.5" text-anchor="end" font-weight="normal" fill="#000" stroke="#000" stroke-width="0.3" >90</text>
<rect x="48.6" y="248.5" width="59.6" height="58.89999999999998" fill="none" stroke="#a0a0a0" stroke-width="0.8"/>
<line x1="72" y1="248.5" x2="72" y2="307.4" stroke="#a8a8a8" stroke-width="0.8"/>
<line x1="48.6" y1="277.8" x2="108.2" y2="277.8" stroke="#a8a8a8" stroke-width="0.8"/>
<text transform="translate(50.2,254.5) scale(0.88,1)" font-size="8.5" text-anchor="start" font-weight="normal" fill="#000" stroke="#000" stroke-width="0.3" >2</text>
<text transform="translate(106.7,254.5) scale(0.88,1)" font-size="8.5" text-anchor="end" font-weight="normal" fill="#000" stroke="#000" stroke-width="0.3" >91</text>
<text transform="translate(50.2,305.09999999999997) scale(0.88,1)" font-size="8.5" text-anchor="start" font-weight="normal" fill="#000" stroke="#000" stroke-width="0.3" >2</text>
<text transform="translate(106.7,305.09999999999997) scale(0.88,1)" font-size="8.5" text-anchor="end" font-weight="normal" fill="#000" stroke="#000" stroke-width="0.3" >5</text>
<rect x="126.6" y="175.2" width="59.80000000000001" height="59.10000000000002" fill="none" stroke="#a0a0a0" stroke-width="0.8"/>
<line x1="150.8" y1="175.2" x2="150.8" y2="234.3" stroke="#a8a8a8" stroke-width="0.8"/>
<line x1="126.6" y1="201.7" x2="186.4" y2="201.7" stroke="#a8a8a8" stroke-width="0.8"/>
<text transform="translate(128.2,181.2) scale(0.88,1)" font-size="8.5" text-anchor="start" font-weight="normal" fill="#000" stroke="#000" stroke-width="0.3" >15</text>
<text transform="translate(184.9,181.2) scale(0.88,1)" font-size="8.5" text-anchor="end" font-weight="normal" fill="#000" stroke="#000" stroke-width="0.3" >58</text>
<text transform="translate(128.2,232.0) scale(0.88,1)" font-size="8.5" text-anchor="start" font-weight="normal" fill="#000" stroke="#000" stroke-width="0.3" >15</text>
<text transform="translate(184.9,232.0) scale(0.88,1)" font-size="8.5" text-anchor="end" font-weight="normal" fill="#000" stroke="#000" stroke-width="0.3" >11</text>
<rect x="126.7" y="248.5" width="59.7" height="58.80000000000001" fill="none" stroke="#a0a0a0" stroke-width="0.8"/>
<line x1="150.5" y1="248.5" x2="150.5" y2="307.3" stroke="#a8a8a8" stroke-width="0.8"/>
<line x1="126.7" y1="274.8" x2="186.4" y2="274.8" stroke="#a8a8a8" stroke-width="0.8"/>
<text transform="translate(128.3,254.5) scale(0.88,1)" font-size="8.5" text-anchor="start" font-weight="normal" fill="#000" stroke="#000" stroke-width="0.3" >1</text>
<text transform="translate(184.9,254.5) scale(0.88,1)" font-size="8.5" text-anchor="end" font-weight="normal" fill="#000" stroke="#000" stroke-width="0.3" >13</text>
<text transform="translate(128.3,305.0) scale(0.88,1)" font-size="8.5" text-anchor="start" font-weight="normal" fill="#000" stroke="#000" stroke-width="0.3" >49</text>
<text transform="translate(184.9,305.0) scale(0.88,1)" font-size="8.5" text-anchor="end" font-weight="normal" fill="#000" stroke="#000" stroke-width="0.3" >37</text>
<text transform="translate(3.4,48.6) scale(0.88,1)" font-size="8.5" text-anchor="start" font-weight="normal" fill="#000" stroke="#000" stroke-width="0.3" >OP9</text>
<text transform="translate(3.4,121.4) scale(0.88,1)" font-size="8.5" text-anchor="start" font-weight="normal" fill="#000" stroke="#000" stroke-width="0.3" >OP9-DL4</text>
<text transform="translate(3.4,207.9) scale(0.88,1)" font-size="8.5" text-anchor="start" font-weight="normal" fill="#000" stroke="#000" stroke-width="0.3" >OP9</text>
<text transform="translate(3.4,280.7) scale(0.88,1)" font-size="8.5" text-anchor="start" font-weight="normal" fill="#000" stroke="#000" stroke-width="0.3" >OP9-DL4</text>
<line x1="42" y1="124.7" x2="42" y2="22.9" stroke="#222" stroke-width="1.3"/>
<polygon points="42,17.2 38.7,23.9 45.3,23.9" fill="#111"/>
<line x1="121.1" y1="128.7" x2="121.1" y2="14.100000000000001" stroke="#222" stroke-width="1.3"/>
<polygon points="121.1,8.4 117.8,15.100000000000001 124.39999999999999,15.100000000000001" fill="#111"/>
<text x="0" y="0" font-size="8.5" text-anchor="start" font-weight="normal" fill="#000" stroke="#000" stroke-width="0.3" transform="translate(44.5,147.7) rotate(-90) scale(0.88,1)">CD25</text>
<text x="0" y="0" font-size="8.5" text-anchor="start" font-weight="normal" fill="#000" stroke="#000" stroke-width="0.3" transform="translate(124.2,146.3) rotate(-90) scale(0.88,1)">CD4</text>
<text transform="translate(48.8,156.5) scale(0.88,1)" font-size="8.5" text-anchor="start" font-weight="normal" fill="#000" stroke="#000" stroke-width="0.3" >TCR <tspan font-style="italic">β</tspan></text>
<line x1="69" y1="153.5" x2="104.6" y2="153.5" stroke="#222" stroke-width="1.3"/>
<polygon points="110.6,153.5 103.6,150.3 103.6,156.7" fill="#111"/>
<text transform="translate(125,156.8) scale(0.88,1)" font-size="8.5" text-anchor="start" font-weight="normal" fill="#000" stroke="#000" stroke-width="0.3" >CD8</text>
<line x1="142.9" y1="153.8" x2="177.8" y2="153.8" stroke="#222" stroke-width="1.3"/>
<polygon points="183.8,153.8 176.8,150.60000000000002 176.8,157.0" fill="#111"/>
<text transform="translate(144.1,12.8) scale(0.88,1)" font-size="8.5" text-anchor="start" font-weight="normal" fill="#000" stroke="#000" stroke-width="0.3" >TCR <tspan font-style="italic">β</tspan><tspan font-size="5" dx="1.7" dy="-1.7">+</tspan></text>
<line x1="42.7" y1="285" x2="42.7" y2="182.89999999999998" stroke="#222" stroke-width="1.3"/>
<polygon points="42.7,177.2 39.400000000000006,183.89999999999998 46.0,183.89999999999998" fill="#111"/>
<line x1="121.2" y1="288.9" x2="121.2" y2="188.0" stroke="#222" stroke-width="1.3"/>
<polygon points="121.2,182.3 117.9,189.0 124.5,189.0" fill="#111"/>
<text x="0" y="0" font-size="8.5" text-anchor="start" font-weight="normal" fill="#000" stroke="#000" stroke-width="0.3" transform="translate(45.7,308) rotate(-90) scale(0.88,1)">CD25</text>
<text x="0" y="0" font-size="8.5" text-anchor="start" font-weight="normal" fill="#000" stroke="#000" stroke-width="0.3" transform="translate(123.5,308) rotate(-90) scale(0.88,1)">CD4</text>
<text transform="translate(49.2,317.3) scale(0.88,1)" font-size="8.5" text-anchor="start" font-weight="normal" fill="#000" stroke="#000" stroke-width="0.3" >TCR <tspan font-style="italic">β</tspan></text>
<line x1="70" y1="315.4" x2="104.6" y2="315.4" stroke="#222" stroke-width="1.3"/>
<polygon points="110.6,315.4 103.6,312.2 103.6,318.59999999999997" fill="#111"/>
<text transform="translate(125.3,317.2) scale(0.88,1)" font-size="8.5" text-anchor="start" font-weight="normal" fill="#000" stroke="#000" stroke-width="0.3" >CD8</text>
<line x1="143.5" y1="315.2" x2="178.5" y2="315.2" stroke="#222" stroke-width="1.3"/>
<polygon points="184.5,315.2 177.5,312.0 177.5,318.4" fill="#111"/>
<text transform="translate(144.1,171.8) scale(0.88,1)" font-size="8.5" text-anchor="start" font-weight="normal" fill="#000" stroke="#000" stroke-width="0.3" >TCR <tspan font-style="italic">β</tspan><tspan font-size="5" dx="1.7" dy="-1.7">+</tspan></text>
<rect x="225.5" y="18.4" width="59.0" height="58.1" fill="none" stroke="#b0b0b0" stroke-width="0.8"/>
<line x1="225.5" y1="76.5" x2="284.5" y2="76.5" stroke="#555" stroke-width="0.9"/>
<line x1="225.5" y1="64.88" x2="226.7" y2="64.88" stroke="#bbb" stroke-width="0.5"/>
<line x1="225.5" y1="53.26" x2="226.7" y2="53.26" stroke="#bbb" stroke-width="0.5"/>
<line x1="225.5" y1="41.64" x2="226.7" y2="41.64" stroke="#bbb" stroke-width="0.5"/>
<line x1="225.5" y1="30.019999999999996" x2="226.7" y2="30.019999999999996" stroke="#bbb" stroke-width="0.5"/>
<path d="M226.0,76.3 L230.6,76.6 L236.9,77.0 L241.6,76.3 L243.1,74.5 L243.0,71.7 L242.9,67.5 L243.3,60.8 L243.8,52.8 L244.1,46.0 L244.3,42.0 L244.4,39.2 L244.6,36.0 L244.9,30.5 L245.3,24.5 L245.7,21.6 L246.1,24.1 L246.5,29.8 L246.9,35.0 L247.1,38.4 L247.3,41.5 L247.4,45.0 L247.5,49.4 L247.7,54.3 L247.9,58.8 L248.2,62.5 L248.6,65.8 L249.1,68.8 L249.7,71.5 L250.3,73.8 L251.0,75.3 L251.7,75.6 L252.3,75.1 L253.0,74.6 L253.6,74.5 L254.2,74.4 L254.8,74.4 L255.3,74.6 L255.9,74.9 L256.5,75.2 L257.2,75.4 L257.8,75.5 L258.5,75.6 L259.2,75.6 L259.8,75.6 L260.4,75.6 L260.2,75.8 L260.0,76.1 L262.0,76.3 L268.6,76.4 L277.5,76.3 L284.0,76.3" fill="none" stroke="#1a1a1a" stroke-width="1.0" stroke-linejoin="round" stroke-dasharray="1.4,0.5"/>
<path d="M226.0,76.3 L230.2,76.5 L235.9,76.8 L240.4,76.3 L242.2,74.7 L242.8,72.4 L243.5,70.0 L245.0,67.7 L246.6,65.2 L247.9,62.5 L248.7,59.3 L249.3,55.8 L249.8,52.5 L250.3,49.4 L250.8,46.5 L251.2,44.0 L251.6,42.2 L251.9,40.8 L252.2,39.0 L252.5,36.2 L252.7,32.9 L253.0,30.0 L253.4,27.8 L253.9,25.9 L254.4,24.4 L255.0,23.2 L255.6,22.3 L256.2,22.0 L256.7,22.5 L257.1,23.6 L257.6,24.4 L258.1,24.3 L258.6,23.9 L259.0,24.0 L259.2,25.0 L259.2,26.5 L259.4,28.0 L259.8,29.3 L260.3,30.6 L260.9,31.9 L261.5,33.3 L262.2,34.6 L262.8,36.1 L263.2,37.7 L263.6,39.3 L264.0,41.0 L264.6,42.6 L265.2,44.2 L266.0,46.2 L267.0,49.0 L268.1,52.0 L269.1,55.0 L270.0,57.7 L270.8,60.3 L271.6,62.5 L272.5,64.0 L273.3,65.1 L274.1,66.2 L274.8,67.4 L275.4,68.6 L276.0,70.0 L276.3,72.1 L276.4,74.6 L277.2,76.3 L279.3,76.8 L282.0,76.5 L284.0,76.3" fill="none" stroke="#111" stroke-width="1.15" stroke-linejoin="round" />
<rect x="292.2" y="18.2" width="59.19999999999999" height="58.599999999999994" fill="none" stroke="#b0b0b0" stroke-width="0.8"/>
<line x1="292.2" y1="76.8" x2="351.4" y2="76.8" stroke="#555" stroke-width="0.9"/>
<line x1="292.2" y1="65.08" x2="293.4" y2="65.08" stroke="#bbb" stroke-width="0.5"/>
<line x1="292.2" y1="53.36" x2="293.4" y2="53.36" stroke="#bbb" stroke-width="0.5"/>
<line x1="292.2" y1="41.64" x2="293.4" y2="41.64" stroke="#bbb" stroke-width="0.5"/>
<line x1="292.2" y1="29.92" x2="293.4" y2="29.92" stroke="#bbb" stroke-width="0.5"/>
<path d="M293.0,76.6 L296.6,77.0 L301.6,77.4 L305.4,76.6 L306.7,74.4 L306.9,71.1 L307.0,66.4 L307.4,59.4 L307.8,51.0 L308.2,44.0 L308.5,39.8 L308.7,37.1 L309.0,34.0 L309.5,29.2 L310.0,24.1 L310.5,21.5 L310.9,23.2 L311.2,27.5 L311.5,32.0 L311.9,35.5 L312.3,39.2 L312.6,44.0 L312.8,51.3 L312.9,59.7 L313.2,66.4 L313.8,69.8 L314.6,71.5 L315.5,72.6 L316.6,73.6 L317.8,74.0 L318.8,74.3 L319.5,74.4 L320.0,74.3 L320.5,74.2 L321.2,74.1 L322.0,74.0 L322.7,74.0 L323.3,74.2 L323.9,74.6 L324.5,75.0 L325.2,75.3 L325.9,75.7 L326.7,76.0 L326.9,76.3 L327.2,76.5 L329.5,76.6 L336.1,76.6 L344.7,76.6 L351.0,76.6" fill="none" stroke="#1a1a1a" stroke-width="1.0" stroke-linejoin="round" stroke-dasharray="1.4,0.5"/>
<path d="M293.0,76.6 L297.4,76.9 L303.5,77.1 L308.2,76.6 L309.9,74.9 L310.1,72.5 L310.4,69.8 L311.2,66.9 L311.9,63.8 L312.6,60.8 L313.2,58.1 L313.8,55.6 L314.3,53.0 L314.9,50.2 L315.5,47.4 L316.0,45.1 L316.4,43.8 L316.7,43.1 L317.0,42.0 L317.2,40.3 L317.4,38.3 L317.5,36.0 L317.6,33.1 L317.7,29.8 L317.8,27.0 L318.1,24.6 L318.5,22.6 L318.8,22.0 L319.0,24.3 L319.3,28.0 L319.5,30.0 L319.8,28.1 L320.2,24.5 L320.5,22.5 L320.8,24.3 L321.1,27.6 L321.5,29.5 L322.1,27.9 L322.9,24.7 L323.5,23.0 L323.8,24.4 L324.0,27.2 L324.2,29.0 L324.6,28.3 L325.1,26.7 L325.5,26.0 L325.8,27.4 L326.1,29.9 L326.5,32.0 L327.0,33.1 L327.5,34.0 L328.0,35.0 L328.3,36.5 L328.6,38.3 L329.0,40.0 L329.6,41.5 L330.4,43.0 L331.0,44.5 L331.3,45.9 L331.4,47.3 L331.6,49.0 L331.9,51.2 L332.3,53.8 L332.8,56.3 L333.6,58.6 L334.6,60.9 L335.6,63.0 L336.5,64.9 L337.5,66.6 L338.4,68.1 L339.4,69.4 L340.3,70.5 L341.2,71.5 L342.0,72.5 L342.8,73.4 L343.5,74.3 L343.8,75.2 L343.9,76.0 L344.6,76.6 L346.6,76.8 L349.1,76.7 L351.0,76.6" fill="none" stroke="#111" stroke-width="1.15" stroke-linejoin="round" />
<rect x="225.2" y="90.2" width="59.10000000000002" height="58.999999999999986" fill="none" stroke="#b0b0b0" stroke-width="0.8"/>
<line x1="225.2" y1="149.2" x2="284.3" y2="149.2" stroke="#555" stroke-width="0.9"/>
<line x1="225.2" y1="137.39999999999998" x2="226.39999999999998" y2="137.39999999999998" stroke="#bbb" stroke-width="0.5"/>
<line x1="225.2" y1="125.6" x2="226.39999999999998" y2="125.6" stroke="#bbb" stroke-width="0.5"/>
<line x1="225.2" y1="113.8" x2="226.39999999999998" y2="113.8" stroke="#bbb" stroke-width="0.5"/>
<line x1="225.2" y1="102.0" x2="226.39999999999998" y2="102.0" stroke="#bbb" stroke-width="0.5"/>
<path d="M226.0,148.9 L230.3,149.1 L236.1,149.3 L240.5,148.9 L241.9,148.1 L241.7,146.7 L241.6,144.0 L242.0,139.1 L242.4,132.8 L242.7,127.2 L242.9,122.9 L243.1,119.3 L243.2,116.0 L243.3,113.3 L243.3,111.0 L243.5,108.0 L243.9,103.2 L244.3,97.8 L244.8,94.5 L245.2,94.5 L245.6,96.7 L246.0,100.0 L246.2,104.5 L246.4,110.2 L246.6,116.0 L246.8,121.8 L247.0,127.7 L247.2,132.8 L247.5,136.5 L247.9,139.4 L248.3,141.8 L248.7,143.8 L249.2,145.3 L250.0,146.3 L251.1,146.8 L252.6,146.8 L254.0,146.8 L255.5,146.9 L257.1,147.0 L258.4,147.2 L258.7,147.7 L258.8,148.4 L261.0,148.9 L267.7,149.0 L276.6,149.0 L283.0,148.9" fill="none" stroke="#1a1a1a" stroke-width="1.0" stroke-linejoin="round" stroke-dasharray="1.4,0.5"/>
<path d="M226.0,148.9 L230.0,149.1 L235.6,149.3 L240.0,148.9 L242.0,147.6 L242.7,145.7 L243.3,142.9 L244.0,138.8 L244.6,134.0 L245.0,129.5 L245.3,126.1 L245.4,123.1 L245.5,120.0 L245.6,116.7 L245.8,113.4 L246.0,110.0 L246.3,106.5 L246.7,103.0 L247.0,100.0 L247.2,97.6 L247.3,95.8 L247.6,94.5 L248.2,93.8 L248.9,93.7 L249.4,94.5 L249.6,96.3 L249.7,99.0 L249.8,102.0 L250.0,105.3 L250.2,109.0 L250.5,113.0 L250.9,117.7 L251.3,122.8 L251.7,127.2 L252.1,130.5 L252.4,133.2 L252.8,135.6 L253.3,137.8 L253.8,139.7 L254.5,141.2 L255.3,142.2 L256.2,142.9 L257.3,143.5 L258.7,144.2 L260.3,144.8 L261.8,145.4 L263.0,145.9 L264.0,146.3 L265.1,146.8 L265.8,147.5 L266.5,148.3 L268.5,148.9 L273.0,149.1 L278.8,149.0 L283.0,148.9" fill="none" stroke="#111" stroke-width="1.15" stroke-linejoin="round" />
<text transform="translate(225.3,157.2) scale(0.88,1)" font-size="8.5" text-anchor="start" font-weight="normal" fill="#000" stroke="#000" stroke-width="0.3" >FSC</text>
<line x1="243" y1="154.4" x2="346" y2="154.4" stroke="#222" stroke-width="1.3"/>
<polygon points="352,154.4 345,151.20000000000002 345,157.6" fill="#111"/>
<rect x="225" y="177.5" width="60.19999999999999" height="59.099999999999994" fill="none" stroke="#b0b0b0" stroke-width="0.8"/>
<line x1="225" y1="236.6" x2="285.2" y2="236.6" stroke="#555" stroke-width="0.9"/>
<line x1="225" y1="224.78" x2="226.2" y2="224.78" stroke="#bbb" stroke-width="0.5"/>
<line x1="225" y1="212.96" x2="226.2" y2="212.96" stroke="#bbb" stroke-width="0.5"/>
<line x1="225" y1="201.14" x2="226.2" y2="201.14" stroke="#bbb" stroke-width="0.5"/>
<line x1="225" y1="189.32" x2="226.2" y2="189.32" stroke="#bbb" stroke-width="0.5"/>
<path d="M226.0,236.3 L229.6,236.4 L234.5,236.5 L238.3,236.3 L239.8,235.5 L240.2,234.3 L240.5,233.0 L241.1,231.8 L241.6,230.4 L242.1,228.6 L242.8,226.4 L243.5,223.8 L244.2,220.4 L244.8,215.7 L245.2,210.1 L245.7,205.0 L246.1,200.7 L246.6,196.9 L247.0,193.0 L247.5,188.1 L248.0,183.2 L248.5,181.0 L248.9,183.2 L249.2,188.1 L249.5,193.0 L249.8,197.1 L250.0,201.1 L250.3,205.0 L250.6,208.6 L251.0,211.9 L251.4,215.3 L251.7,218.9 L252.1,222.6 L252.4,225.6 L252.7,227.7 L253.0,229.2 L253.4,230.7 L253.9,232.4 L254.5,234.1 L255.0,235.3 L254.5,235.9 L254.1,236.2 L256.5,236.3 L264.8,236.4 L275.9,236.3 L284.0,236.3" fill="none" stroke="#1a1a1a" stroke-width="1.0" stroke-linejoin="round" stroke-dasharray="1.4,0.5"/>
<path d="M226.0,236.3 L231.0,236.4 L238.0,236.4 L243.5,236.3 L246.1,235.8 L247.2,235.1 L248.3,234.3 L249.8,233.3 L251.2,232.3 L252.4,231.2 L253.4,230.2 L254.3,229.2 L255.0,228.1 L255.6,227.1 L256.0,226.0 L256.5,224.5 L257.0,222.4 L257.5,219.9 L258.0,217.3 L258.4,214.5 L258.8,211.6 L259.1,209.1 L259.3,207.8 L259.4,206.9 L259.6,205.0 L259.9,200.9 L260.4,195.7 L260.8,191.0 L261.2,186.9 L261.6,183.3 L262.0,181.5 L262.5,182.5 L263.0,185.2 L263.5,188.0 L263.9,190.2 L264.2,192.3 L264.5,194.5 L264.7,196.4 L265.0,198.4 L265.2,201.0 L265.5,204.8 L265.8,209.4 L266.2,214.0 L266.5,218.9 L266.8,223.8 L267.3,228.0 L268.0,231.0 L268.8,233.2 L269.6,234.8 L270.2,235.7 L270.8,236.1 L272.4,236.3 L276.0,236.4 L280.7,236.4 L284.0,236.3" fill="none" stroke="#111" stroke-width="1.15" stroke-linejoin="round" />
<rect x="292.5" y="177.2" width="58.89999999999998" height="59.400000000000006" fill="none" stroke="#b0b0b0" stroke-width="0.8"/>
<line x1="292.5" y1="236.6" x2="351.4" y2="236.6" stroke="#555" stroke-width="0.9"/>
<line x1="292.5" y1="224.72" x2="293.7" y2="224.72" stroke="#bbb" stroke-width="0.5"/>
<line x1="292.5" y1="212.84" x2="293.7" y2="212.84" stroke="#bbb" stroke-width="0.5"/>
<line x1="292.5" y1="200.95999999999998" x2="293.7" y2="200.95999999999998" stroke="#bbb" stroke-width="0.5"/>
<line x1="292.5" y1="189.07999999999998" x2="293.7" y2="189.07999999999998" stroke="#bbb" stroke-width="0.5"/>
<path d="M293.0,236.3 L296.0,236.7 L300.1,237.0 L303.3,236.3 L304.5,233.8 L304.7,230.2 L305.0,226.4 L305.7,222.7 L306.5,218.9 L307.2,215.2 L307.7,211.8 L308.0,208.4 L308.3,205.0 L308.6,201.1 L308.9,197.2 L309.2,194.0 L309.6,192.3 L310.0,191.4 L310.5,190.0 L311.0,186.7 L311.5,182.9 L312.0,181.0 L312.5,182.4 L313.1,185.8 L313.5,189.0 L313.7,191.3 L313.8,193.6 L314.0,196.0 L314.3,198.8 L314.6,201.8 L315.0,205.0 L315.4,208.5 L315.8,212.3 L316.2,216.3 L316.7,221.0 L317.3,225.9 L317.9,229.8 L318.6,231.9 L319.3,232.9 L320.1,233.7 L320.1,234.8 L320.1,235.7 L322.9,236.3 L331.4,236.5 L342.8,236.4 L351.0,236.3" fill="none" stroke="#1a1a1a" stroke-width="1.0" stroke-linejoin="round" stroke-dasharray="1.4,0.5"/>
<path d="M293.0,236.3 L296.9,236.5 L302.3,236.6 L306.6,236.3 L308.7,235.4 L309.8,234.0 L310.6,232.0 L311.5,229.1 L312.2,225.5 L312.8,222.0 L313.3,218.9 L313.6,216.0 L313.9,213.0 L314.1,210.1 L314.3,207.3 L314.5,204.0 L315.0,199.7 L315.5,194.9 L316.0,191.0 L316.2,188.7 L316.3,187.3 L316.5,186.0 L316.9,184.2 L317.3,182.4 L317.8,181.5 L318.4,182.0 L319.0,183.4 L319.5,185.0 L319.9,186.7 L320.2,188.8 L320.5,191.0 L320.8,193.6 L321.2,196.4 L321.5,199.0 L321.8,201.0 L322.1,202.9 L322.4,205.0 L322.9,207.9 L323.4,211.1 L324.0,214.0 L324.7,216.5 L325.5,218.7 L326.3,220.8 L327.1,222.8 L327.8,224.6 L328.5,226.4 L329.1,228.2 L329.6,230.0 L330.2,231.5 L331.1,232.8 L332.1,233.9 L333.0,234.8 L333.2,235.5 L333.3,236.0 L335.0,236.3 L339.9,236.4 L346.3,236.4 L351.0,236.3" fill="none" stroke="#111" stroke-width="1.15" stroke-linejoin="round" />
<rect x="224.8" y="249.8" width="59.80000000000001" height="58.89999999999998" fill="none" stroke="#b0b0b0" stroke-width="0.8"/>
<line x1="224.8" y1="308.7" x2="284.6" y2="308.7" stroke="#555" stroke-width="0.9"/>
<line x1="224.8" y1="296.92" x2="226.0" y2="296.92" stroke="#bbb" stroke-width="0.5"/>
<line x1="224.8" y1="285.14" x2="226.0" y2="285.14" stroke="#bbb" stroke-width="0.5"/>
<line x1="224.8" y1="273.36" x2="226.0" y2="273.36" stroke="#bbb" stroke-width="0.5"/>
<line x1="224.8" y1="261.58" x2="226.0" y2="261.58" stroke="#bbb" stroke-width="0.5"/>
<path d="M225.0,308.4 L228.0,308.6 L232.3,308.9 L235.6,308.4 L237.2,306.9 L237.8,304.6 L238.4,301.8 L239.1,298.4 L239.6,294.5 L240.1,290.6 L240.6,287.0 L241.1,283.5 L241.5,280.0 L241.7,276.5 L241.8,273.1 L242.0,270.0 L242.3,267.5 L242.7,265.4 L243.2,263.0 L243.7,259.3 L244.2,255.4 L244.8,253.5 L245.4,255.3 L246.0,259.2 L246.5,263.0 L246.9,265.7 L247.2,268.3 L247.5,271.0 L247.7,273.8 L247.9,276.7 L248.2,280.0 L248.6,284.1 L249.1,288.6 L249.6,292.8 L250.1,296.6 L250.6,300.2 L251.3,302.9 L252.2,304.4 L253.2,305.0 L254.1,305.7 L253.9,306.7 L253.7,307.7 L256.3,308.4 L264.7,308.6 L275.9,308.5 L284.0,308.4" fill="none" stroke="#1a1a1a" stroke-width="1.0" stroke-linejoin="round" stroke-dasharray="1.4,0.5"/>
<path d="M225.0,308.4 L229.3,308.6 L235.4,308.7 L240.1,308.4 L242.1,307.4 L242.9,306.0 L243.5,304.0 L244.3,301.5 L245.0,298.4 L245.7,295.0 L246.3,291.0 L246.9,286.7 L247.4,282.7 L247.8,279.5 L248.0,276.7 L248.3,274.0 L248.5,271.3 L248.8,268.6 L249.0,266.0 L249.2,263.2 L249.5,260.4 L249.8,258.0 L250.2,256.1 L250.6,254.6 L251.0,254.0 L251.5,254.5 L252.0,255.9 L252.5,258.0 L253.0,261.0 L253.5,264.6 L254.0,268.0 L254.3,270.7 L254.6,273.2 L255.0,276.0 L255.5,279.7 L256.2,283.7 L256.9,287.2 L257.8,289.7 L258.8,291.7 L259.7,293.9 L260.5,296.6 L261.2,299.4 L262.0,301.8 L262.9,303.6 L263.8,305.1 L264.8,306.3 L265.4,307.3 L266.0,307.9 L268.1,308.4 L273.1,308.6 L279.4,308.5 L284.0,308.4" fill="none" stroke="#111" stroke-width="1.15" stroke-linejoin="round" />
<text transform="translate(225.3,318) scale(0.88,1)" font-size="8.5" text-anchor="start" font-weight="normal" fill="#000" stroke="#000" stroke-width="0.3" >CD98</text>
<line x1="247.5" y1="315.2" x2="349.5" y2="315.2" stroke="#222" stroke-width="1.3"/>
<polygon points="355.5,315.2 348.5,312.0 348.5,318.4" fill="#111"/>
<rect x="391.2" y="17.8" width="59.10000000000002" height="59.0" fill="none" stroke="#b0b0b0" stroke-width="0.8"/>
<line x1="391.2" y1="76.8" x2="450.3" y2="76.8" stroke="#555" stroke-width="0.9"/>
<line x1="391.2" y1="65.0" x2="392.4" y2="65.0" stroke="#bbb" stroke-width="0.5"/>
<line x1="391.2" y1="53.199999999999996" x2="392.4" y2="53.199999999999996" stroke="#bbb" stroke-width="0.5"/>
<line x1="391.2" y1="41.4" x2="392.4" y2="41.4" stroke="#bbb" stroke-width="0.5"/>
<line x1="391.2" y1="29.599999999999994" x2="392.4" y2="29.599999999999994" stroke="#bbb" stroke-width="0.5"/>
<path d="M392.0,76.5 L395.3,76.8 L399.9,77.1 L403.3,76.5 L404.4,74.6 L404.4,71.8 L404.4,68.7 L404.8,65.2 L405.1,61.2 L405.5,57.5 L405.9,54.1 L406.2,50.9 L406.5,48.0 L406.7,45.6 L406.8,43.5 L407.0,41.0 L407.3,37.9 L407.6,34.4 L408.0,31.0 L408.4,26.9 L408.8,22.9 L409.2,21.5 L409.6,24.5 L410.1,30.1 L410.5,35.0 L410.9,37.9 L411.2,40.0 L411.5,42.0 L411.7,43.9 L411.8,45.8 L411.9,48.0 L412.1,50.8 L412.4,54.1 L412.8,57.5 L413.3,61.3 L413.9,65.3 L414.5,68.7 L415.2,71.3 L415.9,73.3 L416.7,74.8 L416.6,75.8 L416.5,76.2 L419.5,76.5 L428.7,76.6 L441.1,76.6 L450.0,76.5" fill="none" stroke="#1a1a1a" stroke-width="1.0" stroke-linejoin="round" stroke-dasharray="1.4,0.5"/>
<path d="M392.0,76.5 L394.4,76.6 L397.7,76.6 L400.5,76.5 L402.2,76.1 L403.4,75.5 L404.4,74.8 L405.1,74.1 L405.5,73.3 L406.1,72.6 L406.9,72.1 L407.9,71.8 L408.9,71.5 L410.0,71.3 L411.2,71.2 L412.3,71.1 L413.1,70.9 L413.8,70.7 L414.5,70.3 L415.1,69.7 L415.7,68.8 L416.2,67.5 L416.8,65.7 L417.3,63.5 L417.9,60.8 L418.5,57.1 L419.0,52.9 L419.5,49.6 L419.8,47.9 L420.1,47.0 L420.3,46.0 L420.5,44.5 L420.7,42.8 L421.0,41.0 L421.3,39.0 L421.6,36.8 L422.0,34.5 L422.5,31.9 L423.0,29.1 L423.5,27.0 L423.8,26.0 L424.0,25.5 L424.2,25.0 L424.6,23.8 L425.0,22.5 L425.5,22.0 L426.0,22.6 L426.5,24.0 L427.0,26.0 L427.4,28.7 L427.7,32.0 L428.0,35.0 L428.3,37.2 L428.7,39.0 L429.0,41.0 L429.3,43.0 L429.7,45.2 L430.0,48.0 L430.3,52.1 L430.5,56.8 L430.8,60.8 L431.2,63.5 L431.8,65.6 L432.4,67.5 L433.1,69.4 L433.9,71.0 L434.7,72.6 L435.0,74.1 L435.4,75.5 L436.9,76.5 L440.9,76.8 L446.2,76.6 L450.0,76.5" fill="none" stroke="#111" stroke-width="1.15" stroke-linejoin="round" />
<rect x="459.2" y="17.5" width="59.099999999999966" height="59.3" fill="none" stroke="#b0b0b0" stroke-width="0.8"/>
<line x1="459.2" y1="76.8" x2="518.3" y2="76.8" stroke="#555" stroke-width="0.9"/>
<line x1="459.2" y1="64.94" x2="460.4" y2="64.94" stroke="#bbb" stroke-width="0.5"/>
<line x1="459.2" y1="53.08" x2="460.4" y2="53.08" stroke="#bbb" stroke-width="0.5"/>
<line x1="459.2" y1="41.22" x2="460.4" y2="41.22" stroke="#bbb" stroke-width="0.5"/>
<line x1="459.2" y1="29.36" x2="460.4" y2="29.36" stroke="#bbb" stroke-width="0.5"/>
<path d="M460.0,76.5 L462.7,76.7 L466.4,77.0 L469.3,76.5 L470.6,74.9 L471.1,72.6 L471.5,69.8 L472.1,66.4 L472.7,62.5 L473.2,58.6 L473.6,54.9 L473.9,51.2 L474.1,48.0 L474.2,45.5 L474.3,43.4 L474.5,41.0 L474.8,37.9 L475.1,34.4 L475.5,31.0 L475.8,27.1 L476.2,23.1 L476.5,21.0 L476.8,21.7 L477.2,24.2 L477.5,27.0 L477.8,29.7 L478.2,32.8 L478.5,36.0 L478.8,39.2 L479.1,42.4 L479.3,46.0 L479.5,50.1 L479.6,54.5 L479.9,58.6 L480.3,62.3 L480.9,65.8 L481.6,68.7 L482.4,70.8 L483.4,72.4 L484.4,73.7 L484.5,74.9 L484.7,75.9 L487.8,76.5 L497.0,76.7 L509.2,76.6 L518.0,76.5" fill="none" stroke="#1a1a1a" stroke-width="1.0" stroke-linejoin="round" stroke-dasharray="1.4,0.5"/>
<path d="M460.0,76.5 L463.7,76.6 L469.0,76.8 L473.2,76.5 L475.4,75.6 L476.6,74.4 L477.7,73.1 L478.8,72.1 L479.7,71.2 L480.5,69.8 L481.1,67.9 L481.7,65.6 L482.2,63.0 L482.8,59.8 L483.4,56.2 L483.9,53.0 L484.3,50.3 L484.5,47.9 L484.8,46.0 L485.0,44.7 L485.3,43.8 L485.5,43.0 L485.8,42.4 L486.2,41.9 L486.5,41.0 L486.7,39.2 L486.8,37.0 L487.0,35.0 L487.2,33.1 L487.5,31.4 L487.8,30.5 L488.2,31.5 L488.6,33.4 L489.0,33.5 L489.5,29.8 L490.0,24.3 L490.5,21.0 L490.9,22.1 L491.2,25.3 L491.5,28.0 L491.8,28.8 L492.2,29.0 L492.5,30.0 L492.8,32.7 L493.2,36.1 L493.5,39.0 L493.9,40.7 L494.2,41.8 L494.5,43.0 L494.7,44.6 L494.8,46.3 L495.0,48.0 L495.2,49.5 L495.3,51.0 L495.6,53.0 L496.1,56.1 L496.7,59.7 L497.3,63.0 L497.8,65.6 L498.4,67.8 L499.0,69.8 L499.7,71.6 L500.4,73.1 L501.2,74.3 L501.7,75.3 L502.2,76.0 L504.0,76.5 L508.4,76.7 L514.0,76.6 L518.0,76.5" fill="none" stroke="#111" stroke-width="1.15" stroke-linejoin="round" />
<rect x="391.4" y="90.8" width="58.900000000000034" height="58.60000000000001" fill="none" stroke="#b0b0b0" stroke-width="0.8"/>
<line x1="391.4" y1="149.4" x2="450.3" y2="149.4" stroke="#555" stroke-width="0.9"/>
<line x1="391.4" y1="137.68" x2="392.59999999999997" y2="137.68" stroke="#bbb" stroke-width="0.5"/>
<line x1="391.4" y1="125.96000000000001" x2="392.59999999999997" y2="125.96000000000001" stroke="#bbb" stroke-width="0.5"/>
<line x1="391.4" y1="114.24000000000001" x2="392.59999999999997" y2="114.24000000000001" stroke="#bbb" stroke-width="0.5"/>
<line x1="391.4" y1="102.52" x2="392.59999999999997" y2="102.52" stroke="#bbb" stroke-width="0.5"/>
<path d="M392.0,149.1 L393.7,149.2 L396.1,149.3 L398.2,149.1 L399.6,148.5 L400.7,147.5 L401.6,146.3 L402.3,144.8 L402.8,142.9 L403.3,140.7 L403.7,138.1 L404.1,135.2 L404.4,131.7 L404.7,127.3 L404.9,122.4 L405.2,118.0 L405.5,114.7 L405.7,111.8 L406.0,109.0 L406.3,105.9 L406.5,102.7 L406.8,100.0 L407.0,97.5 L407.3,95.4 L407.5,94.5 L407.8,95.4 L408.0,97.6 L408.3,100.0 L408.5,102.5 L408.8,105.2 L409.0,108.0 L409.2,110.5 L409.3,113.1 L409.5,116.0 L409.6,119.4 L409.8,123.1 L410.0,127.2 L410.3,132.2 L410.7,137.6 L411.1,141.8 L411.5,143.8 L411.9,144.4 L412.8,145.1 L414.5,146.2 L416.5,147.2 L418.4,148.0 L418.8,148.5 L419.1,148.9 L422.0,149.1 L430.6,149.2 L441.8,149.1 L450.0,149.1" fill="none" stroke="#1a1a1a" stroke-width="1.0" stroke-linejoin="round" stroke-dasharray="1.4,0.5"/>
<path d="M392.0,149.1 L393.7,149.2 L396.1,149.3 L398.2,149.1 L399.6,148.5 L400.7,147.5 L401.6,146.3 L402.3,144.8 L402.8,142.9 L403.3,140.7 L403.7,138.1 L404.1,135.2 L404.4,131.7 L404.7,127.3 L404.9,122.4 L405.2,118.0 L405.5,114.7 L405.7,111.8 L406.0,109.0 L406.3,105.9 L406.5,102.7 L406.8,100.0 L407.0,97.5 L407.2,95.5 L407.5,94.5 L407.8,95.1 L408.2,96.8 L408.5,99.0 L408.8,101.8 L409.2,105.1 L409.5,108.0 L409.8,110.2 L410.1,112.1 L410.3,114.0 L410.5,116.0 L410.6,118.0 L410.8,120.0 L411.0,122.2 L411.3,124.4 L411.7,126.1 L412.2,126.7 L412.8,126.7 L413.4,127.2 L413.8,128.8 L414.1,131.0 L414.5,132.8 L415.0,133.9 L415.6,134.6 L416.2,135.6 L416.9,137.0 L417.6,138.6 L418.4,140.1 L419.4,141.4 L420.6,142.5 L421.8,143.5 L423.1,144.2 L424.5,144.6 L425.7,145.1 L426.7,145.6 L427.6,146.2 L428.5,146.8 L429.0,147.6 L429.7,148.5 L431.9,149.1 L437.5,149.3 L444.8,149.2 L450.0,149.1" fill="none" stroke="#111" stroke-width="1.15" stroke-linejoin="round" />
<text transform="translate(390.8,158) scale(0.88,1)" font-size="8.5" text-anchor="start" font-weight="normal" fill="#000" stroke="#000" stroke-width="0.3" >CD71</text>
<line x1="414.6" y1="154.3" x2="511.5" y2="154.3" stroke="#222" stroke-width="1.3"/>
<polygon points="517.5,154.3 510.5,151.10000000000002 510.5,157.5" fill="#111"/>
<text transform="translate(247.7,12.4) scale(0.88,1)" font-size="8.5" text-anchor="start" font-weight="normal" fill="#000" stroke="#000" stroke-width="0.3" >DN3</text>
<text transform="translate(311.75,12.3) scale(0.88,1)" font-size="8.5" text-anchor="start" font-weight="normal" fill="#000" stroke="#000" stroke-width="0.3" >DN4</text>
<text transform="translate(247.6,172.8) scale(0.88,1)" font-size="8.5" text-anchor="start" font-weight="normal" fill="#000" stroke="#000" stroke-width="0.3" >DN3</text>
<text transform="translate(311.9,173.1) scale(0.88,1)" font-size="8.5" text-anchor="start" font-weight="normal" fill="#000" stroke="#000" stroke-width="0.3" >DN4</text>
<text transform="translate(414,12.9) scale(0.88,1)" font-size="8.5" text-anchor="start" font-weight="normal" fill="#000" stroke="#000" stroke-width="0.3" >DN3</text>
<text transform="translate(481.7,12.05) scale(0.88,1)" font-size="8.5" text-anchor="start" font-weight="normal" fill="#000" stroke="#000" stroke-width="0.3" >DN4</text>
<text transform="translate(198.9,48.8) scale(0.88,1)" font-size="8.5" text-anchor="start" font-weight="normal" fill="#000" stroke="#000" stroke-width="0.3" >TCR <tspan font-style="italic">β</tspan><tspan font-size="5" dx="1.7" dy="-1.7">+</tspan></text>
<text transform="translate(199.1,117.4) scale(0.88,1)" font-size="8.5" text-anchor="start" font-weight="normal" fill="#000" stroke="#000" stroke-width="0.3" >TCR <tspan font-style="italic">β</tspan><tspan font-size="5" dx="1.9" dy="-2.5">-</tspan></text>
<text transform="translate(199.4,208.6) scale(0.88,1)" font-size="8.5" text-anchor="start" font-weight="normal" fill="#000" stroke="#000" stroke-width="0.3" >TCR <tspan font-style="italic">β</tspan><tspan font-size="5" dx="1.7" dy="-1.7">+</tspan></text>
<text transform="translate(198.8,281.1) scale(0.88,1)" font-size="8.5" text-anchor="start" font-weight="normal" fill="#000" stroke="#000" stroke-width="0.3" >TCR <tspan font-style="italic">β</tspan><tspan font-size="5" dx="1.9" dy="-2.5">-</tspan></text>
<text transform="translate(366,48.6) scale(0.88,1)" font-size="8.5" text-anchor="start" font-weight="normal" fill="#000" stroke="#000" stroke-width="0.3" >TCR <tspan font-style="italic">β</tspan><tspan font-size="5" dx="1.7" dy="-1.7">+</tspan></text>
<text transform="translate(366.3,117.4) scale(0.88,1)" font-size="8.5" text-anchor="start" font-weight="normal" fill="#000" stroke="#000" stroke-width="0.3" >TCR <tspan font-style="italic">β</tspan><tspan font-size="5" dx="1.9" dy="-2.5">-</tspan></text>
</g></svg>
</body></html>
